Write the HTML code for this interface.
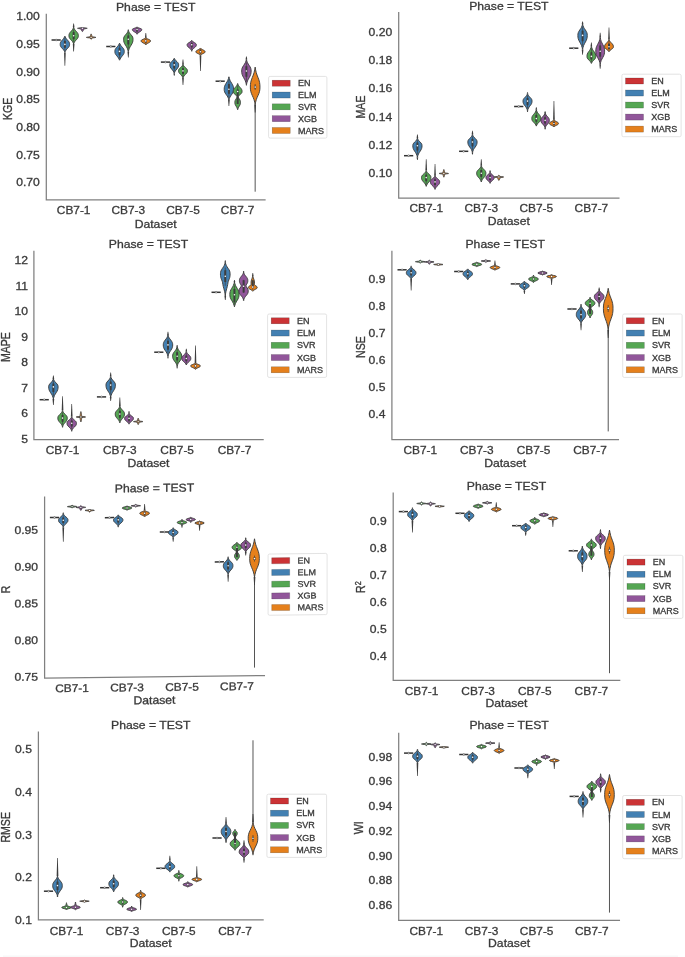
<!DOCTYPE html>
<html><head><meta charset="utf-8"><title>Violin plots</title>
<style>html,body{margin:0;padding:0;background:#fff;}body{width:685px;height:957px;overflow:hidden;font-family:"Liberation Sans",sans-serif;}svg{display:block;filter:blur(0.55px);}</style></head>
<body>
<svg width="685" height="957" viewBox="0 0 685 957" font-family="'Liberation Sans', sans-serif">
<rect width="685" height="957" fill="#fff"/>
<g>
<line x1="51.54" y1="40.00" x2="60.74" y2="40.00" stroke="#333" stroke-width="1.5"/><circle cx="56.14" cy="40.00" r="0.85" fill="#fff" stroke="#4a4a4a" stroke-width="0.55"/>
<path d="M64.04 52.40L65.74 52.40L65.21 65.80L64.57 65.80Z" fill="#3d3d3d"/><path d="M64.89 36.2L65.34 37.05L65.96 38.25L66.76 39.27L67.7 40.3L68.58 41.33L69.21 42.35L69.53 43.38L69.59 44.4L69.52 45.36L69.21 46.32L68.57 47.28L67.7 48.24L66.77 49.2L65.96 50.16L65.34 51.28L64.89 52.4L64.44 51.28L63.81 50.16L63.01 49.2L62.08 48.24L61.2 47.28L60.57 46.32L60.25 45.36L60.19 44.4L60.25 43.38L60.57 42.35L61.2 41.33L62.08 40.3L63.02 39.27L63.81 38.25L64.44 37.05L64.89 36.2Z" fill="#4380b2" stroke="#3d3d3d" stroke-width="0.95" stroke-linejoin="round"/><line x1="64.89" y1="37.91" x2="64.89" y2="50.48" stroke="#3d3d3d" stroke-width="0.7"/><line x1="64.89" y1="40.81" x2="64.89" y2="47.76" stroke="#3d3d3d" stroke-width="2.0"/><circle cx="64.89" cy="44.40" r="0.78" fill="#fff"/>
<path d="M72.79 27.20L74.49 27.20L73.96 23.40L73.32 23.40Z" fill="#3d3d3d"/><path d="M72.79 43.95L74.49 43.95L73.96 51.40L73.32 51.40Z" fill="#3d3d3d"/><path d="M73.64 27.2L74.09 28.39L74.71 29.58L75.51 30.6L76.45 31.62L77.32 32.64L77.96 33.66L78.27 34.68L78.34 35.7L78.27 36.69L77.96 37.68L77.32 38.67L76.45 39.66L75.51 40.65L74.71 41.64L74.09 42.8L73.64 43.95L73.19 42.8L72.56 41.64L71.76 40.65L70.83 39.66L69.95 38.67L69.32 37.68L69 36.69L68.94 35.7L69 34.68L69.32 33.66L69.95 32.64L70.83 31.62L71.76 30.6L72.56 29.58L73.19 28.39L73.64 27.2Z" fill="#55a653" stroke="#3d3d3d" stroke-width="0.95" stroke-linejoin="round"/><line x1="73.64" y1="29.24" x2="73.64" y2="41.97" stroke="#3d3d3d" stroke-width="0.7"/><line x1="73.64" y1="32.13" x2="73.64" y2="39.17" stroke="#3d3d3d" stroke-width="2.0"/><circle cx="73.64" cy="35.70" r="0.78" fill="#fff"/>
<path d="M82.39 27.5L83.6 27.8L86.21 28.05L87.21 28.3L86.26 28.55L84.2 28.8L83.9 29.14L83.64 29.8L83.34 30.3L83.02 30.8L82.75 31.3L82.39 31.5L82.02 31.3L81.75 30.8L81.43 30.3L81.13 29.8L80.87 29.14L80.57 28.8L78.51 28.55L77.56 28.3L78.56 28.05L81.17 27.8L82.39 27.5Z" fill="#91569a" stroke="#484848" stroke-width="0.95" stroke-linejoin="round"/><line x1="82.39" y1="27.30" x2="82.39" y2="29.30" stroke="#3d3d3d" stroke-width="1.6"/><circle cx="82.39" cy="28.30" r="0.7" fill="#fff"/>
<path d="M91.13 33.9L91.49 34.65L91.67 35.2L91.84 35.75L91.96 36.3L92 36.56L92.21 36.85L94.88 37.15L95.86 37.4L94.88 37.65L92.45 37.9L91.9 38.24L91.67 38.73L91.49 39.07L91.13 39.4L90.78 39.07L90.59 38.73L90.36 38.24L89.82 37.9L87.39 37.65L86.4 37.4L87.39 37.15L90.05 36.85L90.27 36.56L90.31 36.3L90.43 35.75L90.6 35.2L90.77 34.65L91.13 33.9Z" fill="#e5801c" stroke="#484848" stroke-width="0.95" stroke-linejoin="round"/><line x1="91.13" y1="36.40" x2="91.13" y2="38.40" stroke="#3d3d3d" stroke-width="1.6"/><circle cx="91.13" cy="37.40" r="0.7" fill="#fff"/>
<line x1="106.22" y1="46.50" x2="115.42" y2="46.50" stroke="#333" stroke-width="1.5"/><circle cx="110.82" cy="46.50" r="0.85" fill="#fff" stroke="#4a4a4a" stroke-width="0.55"/>
<path d="M119.56 43.2L120.02 44.05L120.64 45.25L121.44 46.27L122.38 47.3L123.25 48.33L123.88 49.35L124.2 50.38L124.26 51.4L124.2 52.5L123.88 53.6L123.25 54.7L122.38 55.8L121.44 56.9L120.64 58L120.02 59.28L119.56 60.2L119.11 59.28L118.49 58L117.69 56.9L116.75 55.8L115.88 54.7L115.25 53.6L114.93 52.5L114.86 51.4L114.93 50.38L115.25 49.35L115.88 48.33L116.75 47.3L117.69 46.27L118.49 45.25L119.11 44.05L119.56 43.2Z" fill="#4380b2" stroke="#3d3d3d" stroke-width="0.95" stroke-linejoin="round"/><line x1="119.56" y1="44.91" x2="119.56" y2="58.37" stroke="#3d3d3d" stroke-width="0.7"/><line x1="119.56" y1="47.81" x2="119.56" y2="55.25" stroke="#3d3d3d" stroke-width="2.0"/><circle cx="119.56" cy="51.40" r="0.78" fill="#fff"/>
<path d="M127.46 30.20L129.16 30.20L128.63 29.50L127.99 29.50Z" fill="#3d3d3d"/><path d="M127.46 51.70L129.16 51.70L128.63 57.60L127.99 57.60Z" fill="#3d3d3d"/><path d="M128.31 30.2L128.76 31.46L129.39 32.72L130.19 33.8L131.12 34.88L132 35.96L132.63 37.04L132.95 38.12L133.01 39.2L132.95 40.7L132.63 42.2L132 43.7L131.12 45.2L130.19 46.7L129.39 48.2L128.76 49.95L128.31 51.7L127.86 49.95L127.24 48.2L126.44 46.7L125.5 45.2L124.63 43.7L123.99 42.2L123.68 40.7L123.61 39.2L123.68 38.12L123.99 37.04L124.63 35.96L125.5 34.88L126.44 33.8L127.24 32.72L127.86 31.46L128.31 30.2Z" fill="#55a653" stroke="#3d3d3d" stroke-width="0.95" stroke-linejoin="round"/><line x1="128.31" y1="32.36" x2="128.31" y2="48.70" stroke="#3d3d3d" stroke-width="0.7"/><line x1="128.31" y1="35.42" x2="128.31" y2="44.45" stroke="#3d3d3d" stroke-width="2.0"/><circle cx="128.31" cy="39.20" r="0.78" fill="#fff"/>
<path d="M137.06 26.9L137.51 27.35L138.14 27.7L138.94 28L139.87 28.3L140.75 28.6L141.38 28.9L141.7 29.2L141.76 29.5L141.7 30.07L141.38 30.64L140.75 31.21L139.87 31.78L138.94 32.35L138.14 32.92L137.51 33.59L137.06 34.25L136.61 33.59L135.99 32.92L135.18 32.35L134.25 31.78L133.38 31.21L132.74 30.64L132.43 30.07L132.36 29.5L132.43 29.2L132.74 28.9L133.38 28.6L134.25 28.3L135.18 28L135.99 27.7L136.61 27.35L137.06 26.9Z" fill="#91569a" stroke="#3d3d3d" stroke-width="0.95" stroke-linejoin="round"/><line x1="137.06" y1="27.60" x2="137.06" y2="33.11" stroke="#3d3d3d" stroke-width="0.7"/><line x1="137.06" y1="28.45" x2="137.06" y2="31.50" stroke="#3d3d3d" stroke-width="2.0"/><circle cx="137.06" cy="29.50" r="0.78" fill="#fff"/>
<path d="M144.96 37.65L146.66 37.65L146.13 33.00L145.49 33.00Z" fill="#3d3d3d"/><path d="M145.81 37.65L146.26 38.1L146.88 38.56L147.68 38.95L148.62 39.34L149.49 39.73L150.13 40.12L150.44 40.51L150.51 40.9L150.44 41.38L150.13 41.86L149.49 42.34L148.62 42.82L147.68 43.3L146.88 43.78L146.26 44.34L145.81 44.9L145.36 44.34L144.73 43.78L143.93 43.3L143 42.82L142.12 42.34L141.49 41.86L141.17 41.38L141.11 40.9L141.17 40.51L141.49 40.12L142.12 39.73L143 39.34L143.93 38.95L144.73 38.56L145.36 38.1L145.81 37.65Z" fill="#e5801c" stroke="#3d3d3d" stroke-width="0.95" stroke-linejoin="round"/><line x1="145.81" y1="38.43" x2="145.81" y2="43.94" stroke="#3d3d3d" stroke-width="0.7"/><line x1="145.81" y1="39.53" x2="145.81" y2="42.58" stroke="#3d3d3d" stroke-width="2.0"/><circle cx="145.81" cy="40.90" r="0.78" fill="#fff"/>
<line x1="160.89" y1="62.10" x2="170.09" y2="62.10" stroke="#333" stroke-width="1.5"/><circle cx="165.49" cy="62.10" r="0.85" fill="#fff" stroke="#4a4a4a" stroke-width="0.55"/>
<path d="M173.39 73.40L175.09 73.40L174.56 75.80L173.92 75.80Z" fill="#3d3d3d"/><path d="M174.24 58.3L174.66 58.99L175.25 59.95L175.99 60.77L176.87 61.6L177.69 62.43L178.28 63.25L178.58 64.08L178.64 64.9L178.58 65.92L178.28 66.94L177.69 67.96L176.87 68.98L176 70L175.25 71.02L174.66 72.21L174.24 73.4L173.82 72.21L173.23 71.02L172.48 70L171.61 68.98L170.79 67.96L170.2 66.94L169.9 65.92L169.84 64.9L169.9 64.08L170.2 63.25L170.79 62.43L171.61 61.6L172.49 60.77L173.23 59.95L173.82 58.99L174.24 58.3Z" fill="#4380b2" stroke="#3d3d3d" stroke-width="0.95" stroke-linejoin="round"/><line x1="174.24" y1="59.67" x2="174.24" y2="71.36" stroke="#3d3d3d" stroke-width="0.7"/><line x1="174.24" y1="62.01" x2="174.24" y2="68.47" stroke="#3d3d3d" stroke-width="2.0"/><circle cx="174.24" cy="64.90" r="0.78" fill="#fff"/>
<path d="M182.14 64.40L183.84 64.40L183.31 59.50L182.67 59.50Z" fill="#3d3d3d"/><path d="M182.14 77.90L183.84 77.90L183.31 84.90L182.67 84.90Z" fill="#3d3d3d"/><path d="M182.99 64.4L183.41 65.31L183.99 66.22L184.74 67L185.62 67.78L186.44 68.56L187.03 69.34L187.33 70.12L187.39 70.9L187.33 71.74L187.03 72.58L186.44 73.42L185.62 74.26L184.74 75.1L183.99 75.94L183.41 76.92L182.99 77.9L182.56 76.92L181.98 75.94L181.23 75.1L180.36 74.26L179.54 73.42L178.95 72.58L178.65 71.74L178.59 70.9L178.65 70.12L178.95 69.34L179.54 68.56L180.36 67.78L181.23 67L181.98 66.22L182.56 65.31L182.99 64.4Z" fill="#55a653" stroke="#3d3d3d" stroke-width="0.95" stroke-linejoin="round"/><line x1="182.99" y1="65.96" x2="182.99" y2="76.22" stroke="#3d3d3d" stroke-width="0.7"/><line x1="182.99" y1="68.17" x2="182.99" y2="73.84" stroke="#3d3d3d" stroke-width="2.0"/><circle cx="182.99" cy="70.90" r="0.78" fill="#fff"/>
<path d="M190.89 50.80L192.59 50.80L192.06 51.60L191.42 51.60Z" fill="#3d3d3d"/><path d="M191.74 40.3L192.18 40.93L192.79 41.56L193.57 42.1L194.49 42.64L195.34 43.18L195.96 43.72L196.27 44.26L196.34 44.8L196.27 45.52L195.96 46.24L195.34 46.96L194.49 47.68L193.57 48.4L192.79 49.12L192.18 49.96L191.74 50.8L191.29 49.96L190.68 49.12L189.9 48.4L188.98 47.68L188.13 46.96L187.51 46.24L187.2 45.52L187.14 44.8L187.2 44.26L187.51 43.72L188.13 43.18L188.98 42.64L189.9 42.1L190.68 41.56L191.29 40.93L191.74 40.3Z" fill="#91569a" stroke="#3d3d3d" stroke-width="0.95" stroke-linejoin="round"/><line x1="191.74" y1="41.38" x2="191.74" y2="49.36" stroke="#3d3d3d" stroke-width="0.7"/><line x1="191.74" y1="42.91" x2="191.74" y2="47.32" stroke="#3d3d3d" stroke-width="2.0"/><circle cx="191.74" cy="44.80" r="0.78" fill="#fff"/>
<path d="M199.63 55.30L201.33 55.30L200.80 70.90L200.16 70.90Z" fill="#3d3d3d"/><path d="M200.48 48.05L200.92 48.57L201.54 49.1L202.32 49.55L203.23 50L204.09 50.45L204.71 50.9L205.02 51.35L205.08 51.8L205.02 52.22L204.71 52.64L204.09 53.06L203.23 53.48L202.32 53.9L201.54 54.32L200.93 54.81L200.48 55.3L200.04 54.81L199.43 54.32L198.65 53.9L197.73 53.48L196.88 53.06L196.26 52.64L195.95 52.22L195.88 51.8L195.95 51.35L196.26 50.9L196.88 50.45L197.73 50L198.65 49.55L199.43 49.1L200.05 48.57L200.48 48.05Z" fill="#e5801c" stroke="#3d3d3d" stroke-width="0.95" stroke-linejoin="round"/><line x1="200.48" y1="48.95" x2="200.48" y2="54.46" stroke="#3d3d3d" stroke-width="0.7"/><line x1="200.48" y1="50.22" x2="200.48" y2="53.27" stroke="#3d3d3d" stroke-width="2.0"/><circle cx="200.48" cy="51.80" r="0.78" fill="#fff"/>
<line x1="215.57" y1="81.20" x2="224.77" y2="81.20" stroke="#333" stroke-width="1.5"/><circle cx="220.17" cy="81.20" r="0.85" fill="#fff" stroke="#4a4a4a" stroke-width="0.55"/>
<path d="M228.06 100.05L229.76 100.05L229.23 106.10L228.59 106.10Z" fill="#3d3d3d"/><path d="M228.91 76.8L229.37 78.55L229.99 80.3L230.79 81.8L231.73 83.3L232.6 84.8L233.23 86.3L233.55 87.8L233.61 89.3L233.55 90.59L233.23 91.88L232.6 93.17L231.73 94.46L230.79 95.75L229.99 97.04L229.37 98.55L228.91 100.05L228.46 98.55L227.84 97.04L227.04 95.75L226.1 94.46L225.23 93.17L224.6 91.88L224.28 90.59L224.21 89.3L224.28 87.8L224.6 86.3L225.23 84.8L226.1 83.3L227.04 81.8L227.84 80.3L228.46 78.55L228.91 76.8Z" fill="#4380b2" stroke="#3d3d3d" stroke-width="0.95" stroke-linejoin="round"/><line x1="228.91" y1="79.80" x2="228.91" y2="97.47" stroke="#3d3d3d" stroke-width="0.7"/><line x1="228.91" y1="84.05" x2="228.91" y2="93.81" stroke="#3d3d3d" stroke-width="2.0"/><circle cx="228.91" cy="89.30" r="0.78" fill="#fff"/>
<path d="M237.66 83.5L238.09 84.62L238.67 85.74L239.42 86.7L240.29 87.66L241.11 88.62L241.7 89.58L242 90.54L242.06 91.5L242 92.22L241.7 92.94L241.11 93.66L240.75 94L240.29 94.38L239.42 95.1L239.08 95.4L238.67 95.82L238.28 96.38L238.18 96.66L238.31 97.36L238.78 98.2L239.11 98.7L239.34 99.04L239.86 99.88L239.99 100.14L240.23 100.72L240.42 101.56L240.46 102.4L240.42 103.3L240.23 104.2L239.86 105.1L239.34 106L238.78 106.9L238.3 107.8L237.93 108.85L237.66 109.7L237.39 108.85L237.02 107.8L236.54 106.9L235.99 106L235.47 105.1L235.09 104.2L234.9 103.3L234.86 102.4L234.9 101.56L235.09 100.72L235.33 100.14L235.47 99.88L235.99 99.04L236.22 98.7L236.54 98.2L237.01 97.36L237.15 96.66L237.05 96.38L236.65 95.82L236.24 95.4L235.91 95.1L235.03 94.38L234.58 94L234.21 93.66L233.62 92.94L233.32 92.22L233.26 91.5L233.32 90.54L233.62 89.58L234.21 88.62L235.03 87.66L235.91 86.7L236.66 85.74L237.24 84.62L237.66 83.5Z" fill="#55a653" stroke="#3d3d3d" stroke-width="0.95" stroke-linejoin="round"/><line x1="237.66" y1="85.42" x2="237.66" y2="96.06" stroke="#3d3d3d" stroke-width="0.7"/><line x1="237.66" y1="89.50" x2="237.66" y2="104.00" stroke="#3d3d3d" stroke-width="2.0"/><circle cx="237.66" cy="91.50" r="0.78" fill="#fff"/>
<path d="M245.56 59.50L247.26 59.50L246.73 56.50L246.09 56.50Z" fill="#3d3d3d"/><path d="M245.56 84.75L247.26 84.75L246.73 85.60L246.09 85.60Z" fill="#3d3d3d"/><path d="M246.41 59.5L246.86 61.11L247.49 62.72L248.29 64.1L249.22 65.48L250.1 66.86L250.73 68.24L251.05 69.62L251.11 71L251.05 72.65L250.73 74.3L250.1 75.95L249.22 77.6L248.29 79.25L247.49 80.9L246.86 82.83L246.41 84.75L245.96 82.83L245.34 80.9L244.53 79.25L243.6 77.6L242.73 75.95L242.09 74.3L241.78 72.65L241.71 71L241.78 69.62L242.09 68.24L242.73 66.86L243.6 65.48L244.53 64.1L245.34 62.72L245.96 61.11L246.41 59.5Z" fill="#91569a" stroke="#3d3d3d" stroke-width="0.95" stroke-linejoin="round"/><line x1="246.41" y1="62.26" x2="246.41" y2="81.45" stroke="#3d3d3d" stroke-width="0.7"/><line x1="246.41" y1="66.17" x2="246.41" y2="76.78" stroke="#3d3d3d" stroke-width="2.0"/><circle cx="246.41" cy="71.00" r="0.78" fill="#fff"/>
<line x1="255.16" y1="104.60" x2="255.16" y2="191.70" stroke="#4c4c4c" stroke-width="0.95"/><path d="M254.31 104.60L256.01 104.60L255.56 112.60L254.76 112.60Z" fill="#3d3d3d"/><path d="M255.16 67.1L255.62 69.9L256.26 72.7L257.07 75.1L258.03 77.5L258.92 79.9L259.57 82.3L259.89 84.7L259.96 87.1L259.89 89.2L259.57 91.3L258.92 93.4L258.03 95.5L257.07 97.6L256.26 99.7L255.62 102.15L255.16 104.6L254.7 102.15L254.06 99.7L253.24 97.6L252.29 95.5L251.4 93.4L250.75 91.3L250.43 89.2L250.36 87.1L250.43 84.7L250.75 82.3L251.4 79.9L252.29 77.5L253.24 75.1L254.06 72.7L254.7 69.9L255.16 67.1Z" fill="#e5801c" stroke="#3d3d3d" stroke-width="0.95" stroke-linejoin="round"/><line x1="255.16" y1="84.00" x2="255.16" y2="90.00" stroke="#3d3d3d" stroke-width="0.7"/><line x1="255.16" y1="85.80" x2="255.16" y2="88.40" stroke="#3d3d3d" stroke-width="2.0"/><circle cx="255.16" cy="87.10" r="0.78" fill="#fff"/>
<path d="M46.30 14.30 V199.80 H265.00" fill="none" stroke="#808080" stroke-width="1.25" stroke-linecap="square"/>
<text transform="translate(39.80 20.41) scale(1.085 1)" font-size="11.20" text-anchor="end" fill="#3a3a3a" stroke="#3a3a3a" stroke-width="0.3">1.00</text>
<text transform="translate(39.80 48.01) scale(1.085 1)" font-size="11.20" text-anchor="end" fill="#3a3a3a" stroke="#3a3a3a" stroke-width="0.3">0.95</text>
<text transform="translate(39.80 75.71) scale(1.085 1)" font-size="11.20" text-anchor="end" fill="#3a3a3a" stroke="#3a3a3a" stroke-width="0.3">0.90</text>
<text transform="translate(39.80 103.41) scale(1.085 1)" font-size="11.20" text-anchor="end" fill="#3a3a3a" stroke="#3a3a3a" stroke-width="0.3">0.85</text>
<text transform="translate(39.80 131.01) scale(1.085 1)" font-size="11.20" text-anchor="end" fill="#3a3a3a" stroke="#3a3a3a" stroke-width="0.3">0.80</text>
<text transform="translate(39.80 158.71) scale(1.085 1)" font-size="11.20" text-anchor="end" fill="#3a3a3a" stroke="#3a3a3a" stroke-width="0.3">0.75</text>
<text transform="translate(39.80 186.41) scale(1.085 1)" font-size="11.20" text-anchor="end" fill="#3a3a3a" stroke="#3a3a3a" stroke-width="0.3">0.70</text>
<text transform="translate(73.64 214.31) scale(1.060 1)" font-size="11.20" text-anchor="middle" fill="#3a3a3a" stroke="#3a3a3a" stroke-width="0.3">CB7-1</text>
<text transform="translate(128.31 214.31) scale(1.060 1)" font-size="11.20" text-anchor="middle" fill="#3a3a3a" stroke="#3a3a3a" stroke-width="0.3">CB7-3</text>
<text transform="translate(182.99 214.31) scale(1.060 1)" font-size="11.20" text-anchor="middle" fill="#3a3a3a" stroke="#3a3a3a" stroke-width="0.3">CB7-5</text>
<text transform="translate(237.66 214.31) scale(1.060 1)" font-size="11.20" text-anchor="middle" fill="#3a3a3a" stroke="#3a3a3a" stroke-width="0.3">CB7-7</text>
<text transform="translate(155.65 227.52) scale(1.060 1)" font-size="11.50" text-anchor="middle" fill="#3a3a3a" stroke="#3a3a3a" stroke-width="0.3">Dataset</text>
<text transform="translate(155.65 11.02) scale(1.060 1)" font-size="11.50" text-anchor="middle" fill="#3a3a3a" stroke="#3a3a3a" stroke-width="0.3">Phase = TEST</text>
<text transform="translate(11.52 108.90) rotate(-90) scale(0.920 1.1)" font-size="11.50" text-anchor="middle" fill="#3a3a3a" stroke="#3a3a3a" stroke-width="0.3">KGE</text>
<rect x="268.60" y="76.40" width="58.30" height="61.70" rx="1.5" fill="#fff" stroke="#dcdcdc" stroke-width="0.8"/>
<rect x="272.20" y="80.20" width="18" height="6" fill="#cb3335" stroke="#000" stroke-opacity="0.35" stroke-width="0.5"/>
<text transform="translate(298.00 86.24) scale(1.060 1)" font-size="8.50" text-anchor="start" fill="#3a3a3a" stroke="#3a3a3a" stroke-width="0.3">EN</text>
<rect x="272.20" y="92.03" width="18" height="6" fill="#4380b2" stroke="#000" stroke-opacity="0.35" stroke-width="0.5"/>
<text transform="translate(298.00 98.07) scale(1.060 1)" font-size="8.50" text-anchor="start" fill="#3a3a3a" stroke="#3a3a3a" stroke-width="0.3">ELM</text>
<rect x="272.20" y="103.85" width="18" height="6" fill="#55a653" stroke="#000" stroke-opacity="0.35" stroke-width="0.5"/>
<text transform="translate(298.00 109.89) scale(1.060 1)" font-size="8.50" text-anchor="start" fill="#3a3a3a" stroke="#3a3a3a" stroke-width="0.3">SVR</text>
<rect x="272.20" y="115.68" width="18" height="6" fill="#91569a" stroke="#000" stroke-opacity="0.35" stroke-width="0.5"/>
<text transform="translate(298.00 121.72) scale(1.060 1)" font-size="8.50" text-anchor="start" fill="#3a3a3a" stroke="#3a3a3a" stroke-width="0.3">XGB</text>
<rect x="272.20" y="127.50" width="18" height="6" fill="#e5801c" stroke="#000" stroke-opacity="0.35" stroke-width="0.5"/>
<text transform="translate(298.00 133.54) scale(1.060 1)" font-size="8.50" text-anchor="start" fill="#3a3a3a" stroke="#3a3a3a" stroke-width="0.3">MARS</text>
</g>
<g>
<line x1="404.01" y1="155.70" x2="413.21" y2="155.70" stroke="#333" stroke-width="1.5"/><circle cx="408.61" cy="155.70" r="0.85" fill="#fff" stroke="#4a4a4a" stroke-width="0.55"/>
<path d="M416.57 138.20L418.27 138.20L417.74 134.60L417.10 134.60Z" fill="#3d3d3d"/><path d="M416.57 157.20L418.27 157.20L417.74 160.00L417.10 160.00Z" fill="#3d3d3d"/><path d="M417.42 138.2L417.86 139.25L418.47 140.3L419.25 141.2L420.17 142.1L421.02 143L421.64 143.9L421.95 144.8L422.02 145.7L421.95 147.08L421.64 148.46L421.02 149.84L420.17 151.22L419.25 152.6L418.47 153.98L417.86 155.59L417.42 157.2L416.97 155.59L416.36 153.98L415.58 152.6L414.67 151.22L413.81 149.84L413.19 148.46L412.88 147.08L412.82 145.7L412.88 144.8L413.19 143.9L413.81 143L414.67 142.1L415.58 141.2L416.36 140.3L416.97 139.25L417.42 138.2Z" fill="#4380b2" stroke="#3d3d3d" stroke-width="0.95" stroke-linejoin="round"/><line x1="417.42" y1="140.00" x2="417.42" y2="154.44" stroke="#3d3d3d" stroke-width="0.7"/><line x1="417.42" y1="142.55" x2="417.42" y2="150.53" stroke="#3d3d3d" stroke-width="2.0"/><circle cx="417.42" cy="145.70" r="0.78" fill="#fff"/>
<path d="M425.37 170.60L427.07 170.60L426.54 159.20L425.90 159.20Z" fill="#3d3d3d"/><path d="M426.22 170.6L426.68 171.58L427.3 172.56L428.1 173.4L429.04 174.24L429.91 175.08L430.54 175.92L430.86 176.76L430.92 177.6L430.86 178.65L430.54 179.7L429.91 180.75L429.04 181.8L428.1 182.85L427.3 183.9L426.68 185.12L426.22 186.35L425.77 185.12L425.15 183.9L424.35 182.85L423.41 181.8L422.54 180.75L421.91 179.7L421.59 178.65L421.52 177.6L421.59 176.76L421.91 175.92L422.54 175.08L423.41 174.24L424.35 173.4L425.15 172.56L425.77 171.58L426.22 170.6Z" fill="#55a653" stroke="#3d3d3d" stroke-width="0.95" stroke-linejoin="round"/><line x1="426.22" y1="172.28" x2="426.22" y2="184.25" stroke="#3d3d3d" stroke-width="0.7"/><line x1="426.22" y1="174.66" x2="426.22" y2="181.28" stroke="#3d3d3d" stroke-width="2.0"/><circle cx="426.22" cy="177.60" r="0.78" fill="#fff"/>
<path d="M434.18 175.65L435.88 175.65L435.35 163.90L434.71 163.90Z" fill="#3d3d3d"/><path d="M435.03 175.65L435.48 176.53L436.09 177.4L436.87 178.15L437.78 178.9L438.64 179.65L439.26 180.4L439.57 181.15L439.63 181.9L439.57 182.8L439.26 183.7L438.64 184.6L437.78 185.5L436.87 186.4L436.09 187.3L435.48 188.35L435.03 189.4L434.59 188.35L433.98 187.3L433.2 186.4L432.28 185.5L431.43 184.6L430.81 183.7L430.5 182.8L430.43 181.9L430.5 181.15L430.81 180.4L431.43 179.65L432.28 178.9L433.2 178.15L433.98 177.4L434.59 176.53L435.03 175.65Z" fill="#91569a" stroke="#3d3d3d" stroke-width="0.95" stroke-linejoin="round"/><line x1="435.03" y1="177.15" x2="435.03" y2="187.60" stroke="#3d3d3d" stroke-width="0.7"/><line x1="435.03" y1="179.28" x2="435.03" y2="185.05" stroke="#3d3d3d" stroke-width="2.0"/><circle cx="435.03" cy="181.90" r="0.78" fill="#fff"/>
<path d="M443.84 169.5L444.16 170.33L444.32 170.97L444.47 171.6L444.58 172.23L444.6 172.49L444.63 172.8L445.8 173.08L448.17 173.33L448.51 173.58L446.66 173.84L444.71 174.1L444.6 174.51L444.47 175.35L444.32 175.97L444.16 176.58L443.84 177.2L443.52 176.58L443.36 175.97L443.21 175.35L443.08 174.51L442.97 174.1L441.03 173.84L439.18 173.58L439.51 173.33L441.88 173.08L443.05 172.8L443.08 172.49L443.11 172.23L443.21 171.6L443.36 170.97L443.52 170.33L443.84 169.5Z" fill="#e5801c" stroke="#484848" stroke-width="0.95" stroke-linejoin="round"/><line x1="443.84" y1="172.50" x2="443.84" y2="174.50" stroke="#3d3d3d" stroke-width="1.6"/><circle cx="443.84" cy="173.50" r="0.7" fill="#fff"/>
<line x1="459.06" y1="151.30" x2="468.26" y2="151.30" stroke="#333" stroke-width="1.5"/><circle cx="463.66" cy="151.30" r="0.85" fill="#fff" stroke="#4a4a4a" stroke-width="0.55"/>
<path d="M471.62 134.50L473.32 134.50L472.79 130.80L472.15 130.80Z" fill="#3d3d3d"/><path d="M471.62 152.50L473.32 152.50L472.79 154.40L472.15 154.40Z" fill="#3d3d3d"/><path d="M472.47 134.5L472.91 135.55L473.52 136.6L474.3 137.5L475.22 138.4L476.07 139.3L476.69 140.2L477 141.1L477.07 142L477 143.26L476.69 144.52L476.07 145.78L475.22 147.04L474.3 148.3L473.52 149.56L472.91 151.03L472.47 152.5L472.02 151.03L471.41 149.56L470.63 148.3L469.72 147.04L468.86 145.78L468.24 144.52L467.93 143.26L467.87 142L467.93 141.1L468.24 140.2L468.86 139.3L469.72 138.4L470.63 137.5L471.41 136.6L472.02 135.55L472.47 134.5Z" fill="#4380b2" stroke="#3d3d3d" stroke-width="0.95" stroke-linejoin="round"/><line x1="472.47" y1="136.30" x2="472.47" y2="149.98" stroke="#3d3d3d" stroke-width="0.7"/><line x1="472.47" y1="138.85" x2="472.47" y2="146.41" stroke="#3d3d3d" stroke-width="2.0"/><circle cx="472.47" cy="142.00" r="0.78" fill="#fff"/>
<path d="M480.42 165.70L482.12 165.70L481.59 159.20L480.95 159.20Z" fill="#3d3d3d"/><path d="M481.27 165.7L481.72 166.75L482.33 167.8L483.11 168.7L484.03 169.6L484.88 170.5L485.5 171.4L485.81 172.3L485.88 173.2L485.81 174.25L485.5 175.3L484.88 176.35L484.03 177.4L483.11 178.45L482.33 179.5L481.72 180.72L481.27 181.95L480.83 180.72L480.22 179.5L479.44 178.45L478.52 177.4L477.67 176.35L477.05 175.3L476.74 174.25L476.67 173.2L476.74 172.3L477.05 171.4L477.67 170.5L478.52 169.6L479.44 168.7L480.22 167.8L480.83 166.75L481.27 165.7Z" fill="#55a653" stroke="#3d3d3d" stroke-width="0.95" stroke-linejoin="round"/><line x1="481.27" y1="167.50" x2="481.27" y2="179.85" stroke="#3d3d3d" stroke-width="0.7"/><line x1="481.27" y1="170.05" x2="481.27" y2="176.88" stroke="#3d3d3d" stroke-width="2.0"/><circle cx="481.27" cy="173.20" r="0.78" fill="#fff"/>
<path d="M489.23 172.10L490.93 172.10L490.40 170.20L489.76 170.20Z" fill="#3d3d3d"/><path d="M490.08 172.1L490.48 172.87L491.02 173.64L491.72 174.3L492.54 174.96L493.3 175.62L493.85 176.28L494.13 176.94L494.18 177.6L494.13 178.29L493.85 178.98L493.3 179.67L492.54 180.36L491.72 181.05L491.02 181.74L490.48 182.54L490.08 183.35L489.69 182.54L489.15 181.74L488.45 181.05L487.63 180.36L486.87 179.67L486.32 178.98L486.04 178.29L485.98 177.6L486.04 176.94L486.32 176.28L486.87 175.62L487.63 174.96L488.45 174.3L489.15 173.64L489.69 172.87L490.08 172.1Z" fill="#91569a" stroke="#3d3d3d" stroke-width="0.95" stroke-linejoin="round"/><line x1="490.08" y1="173.42" x2="490.08" y2="181.97" stroke="#3d3d3d" stroke-width="0.7"/><line x1="490.08" y1="175.29" x2="490.08" y2="180.01" stroke="#3d3d3d" stroke-width="2.0"/><circle cx="490.08" cy="177.60" r="0.78" fill="#fff"/>
<path d="M498.89 175.1L499.41 175.58L499.67 175.87L499.91 176.15L500.11 176.4L501.81 176.66L503.61 176.92L503.28 177.17L501.03 177.42L500.16 177.7L500.1 178.01L499.91 178.6L499.67 179.13L499.41 179.67L499.19 180.2L498.89 180.4L498.59 180.2L498.37 179.67L498.11 179.13L497.87 178.6L497.68 178.01L497.63 177.7L496.75 177.42L494.5 177.17L494.17 176.92L495.97 176.66L497.67 176.4L497.87 176.15L498.11 175.87L498.37 175.58L498.89 175.1Z" fill="#e5801c" stroke="#484848" stroke-width="0.95" stroke-linejoin="round"/><line x1="498.89" y1="176.00" x2="498.89" y2="178.00" stroke="#3d3d3d" stroke-width="1.6"/><circle cx="498.89" cy="177.00" r="0.7" fill="#fff"/>
<line x1="514.11" y1="106.50" x2="523.31" y2="106.50" stroke="#333" stroke-width="1.5"/><circle cx="518.71" cy="106.50" r="0.85" fill="#fff" stroke="#4a4a4a" stroke-width="0.55"/>
<path d="M526.67 93.60L528.37 93.60L527.84 92.30L527.20 92.30Z" fill="#3d3d3d"/><path d="M526.67 110.60L528.37 110.60L527.84 112.00L527.20 112.00Z" fill="#3d3d3d"/><path d="M527.52 93.6L527.95 94.65L528.55 95.7L529.31 96.6L530.21 97.5L531.05 98.4L531.65 99.3L531.95 100.2L532.02 101.1L531.95 102.24L531.65 103.38L531.05 104.52L530.21 105.66L529.31 106.8L528.55 107.94L527.95 109.27L527.52 110.6L527.08 109.27L526.49 107.94L525.72 106.8L524.83 105.66L523.99 104.52L523.38 103.38L523.08 102.24L523.02 101.1L523.08 100.2L523.38 99.3L523.99 98.4L524.83 97.5L525.72 96.6L526.49 95.7L527.08 94.65L527.52 93.6Z" fill="#4380b2" stroke="#3d3d3d" stroke-width="0.95" stroke-linejoin="round"/><line x1="527.52" y1="95.40" x2="527.52" y2="108.32" stroke="#3d3d3d" stroke-width="0.7"/><line x1="527.52" y1="97.95" x2="527.52" y2="105.09" stroke="#3d3d3d" stroke-width="2.0"/><circle cx="527.52" cy="101.10" r="0.78" fill="#fff"/>
<path d="M535.48 109.85L537.18 109.85L536.65 107.20L536.00 107.20Z" fill="#3d3d3d"/><path d="M536.33 109.85L536.76 111.07L537.35 112.3L538.12 113.35L539.02 114.4L539.85 115.45L540.46 116.5L540.76 117.55L540.83 118.6L540.76 119.5L540.46 120.4L539.85 121.3L539.02 122.2L538.12 123.1L537.35 124L536.76 125.05L536.33 126.1L535.89 125.05L535.3 124L534.53 123.1L533.63 122.2L532.8 121.3L532.19 120.4L531.89 119.5L531.83 118.6L531.89 117.55L532.19 116.5L532.8 115.45L533.63 114.4L534.53 113.35L535.3 112.3L535.89 111.07L536.33 109.85Z" fill="#55a653" stroke="#3d3d3d" stroke-width="0.95" stroke-linejoin="round"/><line x1="536.33" y1="111.95" x2="536.33" y2="124.30" stroke="#3d3d3d" stroke-width="0.7"/><line x1="536.33" y1="114.92" x2="536.33" y2="121.75" stroke="#3d3d3d" stroke-width="2.0"/><circle cx="536.33" cy="118.60" r="0.78" fill="#fff"/>
<path d="M544.28 112.90L545.98 112.90L545.45 111.30L544.81 111.30Z" fill="#3d3d3d"/><path d="M544.28 127.90L545.98 127.90L545.45 129.50L544.81 129.50Z" fill="#3d3d3d"/><path d="M545.13 112.9L545.54 113.95L546.09 115L546.81 115.9L547.64 116.8L548.43 117.7L548.99 118.6L549.27 119.5L549.33 120.4L549.27 121.3L548.99 122.2L548.43 123.1L547.64 124L546.81 124.9L546.09 125.8L545.54 126.85L545.13 127.9L544.73 126.85L544.17 125.8L543.46 124.9L542.62 124L541.84 123.1L541.27 122.2L540.99 121.3L540.93 120.4L540.99 119.5L541.27 118.6L541.84 117.7L542.62 116.8L543.46 115.9L544.17 115L544.73 113.95L545.13 112.9Z" fill="#91569a" stroke="#3d3d3d" stroke-width="0.95" stroke-linejoin="round"/><line x1="545.13" y1="114.70" x2="545.13" y2="126.10" stroke="#3d3d3d" stroke-width="0.7"/><line x1="545.13" y1="117.25" x2="545.13" y2="123.55" stroke="#3d3d3d" stroke-width="2.0"/><circle cx="545.13" cy="120.40" r="0.78" fill="#fff"/>
<path d="M553.09 119.75L554.79 119.75L554.26 101.10L553.62 101.10Z" fill="#3d3d3d"/><path d="M553.94 119.75L554.38 120.28L554.97 120.8L555.74 121.25L556.63 121.7L557.47 122.15L558.08 122.6L558.38 123.05L558.44 123.5L558.38 123.92L558.08 124.34L557.47 124.76L556.63 125.18L555.74 125.6L554.97 126.02L554.37 126.51L553.94 127L553.51 126.51L552.91 126.02L552.14 125.6L551.25 125.18L550.41 124.76L549.81 124.34L549.5 123.92L549.44 123.5L549.5 123.05L549.81 122.6L550.41 122.15L551.25 121.7L552.14 121.25L552.91 120.8L553.5 120.28L553.94 119.75Z" fill="#e5801c" stroke="#3d3d3d" stroke-width="0.95" stroke-linejoin="round"/><line x1="553.94" y1="120.65" x2="553.94" y2="126.16" stroke="#3d3d3d" stroke-width="0.7"/><line x1="553.94" y1="121.92" x2="553.94" y2="124.97" stroke="#3d3d3d" stroke-width="2.0"/><circle cx="553.94" cy="123.50" r="0.78" fill="#fff"/>
<line x1="569.16" y1="48.20" x2="578.36" y2="48.20" stroke="#333" stroke-width="1.5"/><circle cx="573.76" cy="48.20" r="0.85" fill="#fff" stroke="#4a4a4a" stroke-width="0.55"/>
<path d="M581.72 24.15L583.42 24.15L582.89 21.40L582.25 21.40Z" fill="#3d3d3d"/><path d="M581.72 49.40L583.42 49.40L582.89 54.70L582.25 54.70Z" fill="#3d3d3d"/><path d="M582.57 24.15L583.02 25.73L583.64 27.3L584.44 28.65L585.38 30L586.25 31.35L586.88 32.7L587.2 34.05L587.27 35.4L587.2 37.08L586.88 38.76L586.25 40.44L585.38 42.12L584.44 43.8L583.64 45.48L583.02 47.44L582.57 49.4L582.11 47.44L581.49 45.48L580.69 43.8L579.76 42.12L578.88 40.44L578.25 38.76L577.93 37.08L577.87 35.4L577.93 34.05L578.25 32.7L578.88 31.35L579.76 30L580.69 28.65L581.49 27.3L582.11 25.73L582.57 24.15Z" fill="#4380b2" stroke="#3d3d3d" stroke-width="0.95" stroke-linejoin="round"/><line x1="582.57" y1="26.85" x2="582.57" y2="46.04" stroke="#3d3d3d" stroke-width="0.7"/><line x1="582.57" y1="30.67" x2="582.57" y2="41.28" stroke="#3d3d3d" stroke-width="2.0"/><circle cx="582.57" cy="35.40" r="0.78" fill="#fff"/>
<path d="M590.52 46.40L592.23 46.40L591.70 42.40L591.05 42.40Z" fill="#3d3d3d"/><path d="M591.38 46.4L591.8 47.8L592.38 49.2L593.13 50.4L594.01 51.6L594.82 52.8L595.42 54L595.71 55.2L595.77 56.4L595.71 57.27L595.42 58.14L594.82 59.01L594.01 59.88L593.13 60.75L592.38 61.62L591.8 62.63L591.38 63.4L590.95 62.63L590.37 61.62L589.62 60.75L588.74 59.88L587.93 59.01L587.33 58.14L587.04 57.27L586.98 56.4L587.04 55.2L587.33 54L587.93 52.8L588.74 51.6L589.62 50.4L590.37 49.2L590.95 47.8L591.38 46.4Z" fill="#55a653" stroke="#3d3d3d" stroke-width="0.95" stroke-linejoin="round"/><line x1="591.38" y1="48.80" x2="591.38" y2="61.91" stroke="#3d3d3d" stroke-width="0.7"/><line x1="591.38" y1="52.20" x2="591.38" y2="59.45" stroke="#3d3d3d" stroke-width="2.0"/><circle cx="591.38" cy="56.40" r="0.78" fill="#fff"/>
<path d="M599.33 37.45L601.03 37.45L600.50 32.80L599.86 32.80Z" fill="#3d3d3d"/><path d="M599.33 64.20L601.03 64.20L600.50 68.70L599.86 68.70Z" fill="#3d3d3d"/><path d="M600.18 37.45L600.61 39.38L601.19 41.3L601.94 42.95L602.81 44.6L603.63 46.25L604.23 47.9L604.52 49.55L604.58 51.2L604.52 52.76L604.23 54.32L603.63 55.88L602.81 57.44L601.94 59L601.19 60.56L600.61 62.38L600.18 64.2L599.76 62.38L599.18 60.56L598.43 59L597.55 57.44L596.73 55.88L596.14 54.32L595.84 52.76L595.78 51.2L595.84 49.55L596.14 47.9L596.73 46.25L597.55 44.6L598.43 42.95L599.18 41.3L599.76 39.38L600.18 37.45Z" fill="#91569a" stroke="#3d3d3d" stroke-width="0.95" stroke-linejoin="round"/><line x1="600.18" y1="40.75" x2="600.18" y2="61.08" stroke="#3d3d3d" stroke-width="0.7"/><line x1="600.18" y1="45.43" x2="600.18" y2="56.66" stroke="#3d3d3d" stroke-width="2.0"/><circle cx="600.18" cy="51.20" r="0.78" fill="#fff"/>
<path d="M608.14 39.30L609.84 39.30L609.31 27.50L608.67 27.50Z" fill="#3d3d3d"/><path d="M608.99 39.3L609.41 40.35L610 41.4L610.75 42.3L611.62 43.2L612.44 44.1L613.03 45L613.33 45.9L613.39 46.8L613.33 47.4L613.03 48L612.44 48.6L611.62 49.2L610.75 49.8L610 50.4L609.41 51.1L608.99 51.8L608.57 51.1L607.98 50.4L607.23 49.8L606.36 49.2L605.54 48.6L604.95 48L604.65 47.4L604.59 46.8L604.65 45.9L604.95 45L605.54 44.1L606.36 43.2L607.23 42.3L607.98 41.4L608.57 40.35L608.99 39.3Z" fill="#e5801c" stroke="#3d3d3d" stroke-width="0.95" stroke-linejoin="round"/><line x1="608.99" y1="41.10" x2="608.99" y2="50.60" stroke="#3d3d3d" stroke-width="0.7"/><line x1="608.99" y1="43.65" x2="608.99" y2="48.90" stroke="#3d3d3d" stroke-width="2.0"/><circle cx="608.99" cy="46.80" r="0.78" fill="#fff"/>
<path d="M398.70 12.50 V198.00 H618.90" fill="none" stroke="#808080" stroke-width="1.25" stroke-linecap="square"/>
<text transform="translate(392.20 36.11) scale(1.085 1)" font-size="11.20" text-anchor="end" fill="#3a3a3a" stroke="#3a3a3a" stroke-width="0.3">0.20</text>
<text transform="translate(392.20 64.21) scale(1.085 1)" font-size="11.20" text-anchor="end" fill="#3a3a3a" stroke="#3a3a3a" stroke-width="0.3">0.18</text>
<text transform="translate(392.20 92.31) scale(1.085 1)" font-size="11.20" text-anchor="end" fill="#3a3a3a" stroke="#3a3a3a" stroke-width="0.3">0.16</text>
<text transform="translate(392.20 120.51) scale(1.085 1)" font-size="11.20" text-anchor="end" fill="#3a3a3a" stroke="#3a3a3a" stroke-width="0.3">0.14</text>
<text transform="translate(392.20 148.61) scale(1.085 1)" font-size="11.20" text-anchor="end" fill="#3a3a3a" stroke="#3a3a3a" stroke-width="0.3">0.12</text>
<text transform="translate(392.20 176.61) scale(1.085 1)" font-size="11.20" text-anchor="end" fill="#3a3a3a" stroke="#3a3a3a" stroke-width="0.3">0.10</text>
<text transform="translate(426.22 212.01) scale(1.060 1)" font-size="11.20" text-anchor="middle" fill="#3a3a3a" stroke="#3a3a3a" stroke-width="0.3">CB7-1</text>
<text transform="translate(481.27 212.01) scale(1.060 1)" font-size="11.20" text-anchor="middle" fill="#3a3a3a" stroke="#3a3a3a" stroke-width="0.3">CB7-3</text>
<text transform="translate(536.33 212.01) scale(1.060 1)" font-size="11.20" text-anchor="middle" fill="#3a3a3a" stroke="#3a3a3a" stroke-width="0.3">CB7-5</text>
<text transform="translate(591.38 212.01) scale(1.060 1)" font-size="11.20" text-anchor="middle" fill="#3a3a3a" stroke="#3a3a3a" stroke-width="0.3">CB7-7</text>
<text transform="translate(508.80 224.92) scale(1.060 1)" font-size="11.50" text-anchor="middle" fill="#3a3a3a" stroke="#3a3a3a" stroke-width="0.3">Dataset</text>
<text transform="translate(508.80 9.52) scale(1.060 1)" font-size="11.50" text-anchor="middle" fill="#3a3a3a" stroke="#3a3a3a" stroke-width="0.3">Phase = TEST</text>
<text transform="translate(364.72 107.00) rotate(-90) scale(0.920 1.1)" font-size="11.50" text-anchor="middle" fill="#3a3a3a" stroke="#3a3a3a" stroke-width="0.3">MAE</text>
<rect x="621.90" y="74.20" width="59.20" height="62.50" rx="1.5" fill="#fff" stroke="#dcdcdc" stroke-width="0.8"/>
<rect x="625.50" y="78.00" width="18" height="6" fill="#cb3335" stroke="#000" stroke-opacity="0.35" stroke-width="0.5"/>
<text transform="translate(651.30 84.04) scale(1.060 1)" font-size="8.50" text-anchor="start" fill="#3a3a3a" stroke="#3a3a3a" stroke-width="0.3">EN</text>
<rect x="625.50" y="90.03" width="18" height="6" fill="#4380b2" stroke="#000" stroke-opacity="0.35" stroke-width="0.5"/>
<text transform="translate(651.30 96.07) scale(1.060 1)" font-size="8.50" text-anchor="start" fill="#3a3a3a" stroke="#3a3a3a" stroke-width="0.3">ELM</text>
<rect x="625.50" y="102.05" width="18" height="6" fill="#55a653" stroke="#000" stroke-opacity="0.35" stroke-width="0.5"/>
<text transform="translate(651.30 108.09) scale(1.060 1)" font-size="8.50" text-anchor="start" fill="#3a3a3a" stroke="#3a3a3a" stroke-width="0.3">SVR</text>
<rect x="625.50" y="114.08" width="18" height="6" fill="#91569a" stroke="#000" stroke-opacity="0.35" stroke-width="0.5"/>
<text transform="translate(651.30 120.12) scale(1.060 1)" font-size="8.50" text-anchor="start" fill="#3a3a3a" stroke="#3a3a3a" stroke-width="0.3">XGB</text>
<rect x="625.50" y="126.10" width="18" height="6" fill="#e5801c" stroke="#000" stroke-opacity="0.35" stroke-width="0.5"/>
<text transform="translate(651.30 132.14) scale(1.060 1)" font-size="8.50" text-anchor="start" fill="#3a3a3a" stroke="#3a3a3a" stroke-width="0.3">MARS</text>
</g>
<g>
<line x1="39.61" y1="399.70" x2="48.81" y2="399.70" stroke="#333" stroke-width="1.5"/><circle cx="44.21" cy="399.70" r="0.85" fill="#fff" stroke="#4a4a4a" stroke-width="0.55"/>
<path d="M52.53 378.90L54.23 378.90L53.70 375.50L53.06 375.50Z" fill="#3d3d3d"/><path d="M52.53 398.90L54.23 398.90L53.70 404.90L53.06 404.90Z" fill="#3d3d3d"/><path d="M53.38 378.9L53.83 380.02L54.46 381.14L55.26 382.1L56.19 383.06L57.07 384.02L57.7 384.98L58.02 385.94L58.08 386.9L58.02 388.34L57.7 389.78L57.07 391.22L56.19 392.66L55.26 394.1L54.46 395.54L53.83 397.22L53.38 398.9L52.93 397.22L52.31 395.54L51.51 394.1L50.57 392.66L49.7 391.22L49.06 389.78L48.75 388.34L48.68 386.9L48.75 385.94L49.06 384.98L49.7 384.02L50.57 383.06L51.51 382.1L52.31 381.14L52.93 380.02L53.38 378.9Z" fill="#4380b2" stroke="#3d3d3d" stroke-width="0.95" stroke-linejoin="round"/><line x1="53.38" y1="380.82" x2="53.38" y2="396.02" stroke="#3d3d3d" stroke-width="0.7"/><line x1="53.38" y1="383.54" x2="53.38" y2="391.94" stroke="#3d3d3d" stroke-width="2.0"/><circle cx="53.38" cy="386.90" r="0.78" fill="#fff"/>
<path d="M61.70 410.60L63.40 410.60L62.87 396.20L62.23 396.20Z" fill="#3d3d3d"/><path d="M61.70 426.85L63.40 426.85L62.87 427.50L62.23 427.50Z" fill="#3d3d3d"/><path d="M62.55 410.6L63 411.65L63.63 412.7L64.43 413.6L65.36 414.5L66.23 415.4L66.87 416.3L67.18 417.2L67.25 418.1L67.18 419.15L66.87 420.2L66.23 421.25L65.36 422.3L64.43 423.35L63.63 424.4L63 425.62L62.55 426.85L62.1 425.62L61.47 424.4L60.67 423.35L59.74 422.3L58.87 421.25L58.23 420.2L57.92 419.15L57.85 418.1L57.92 417.2L58.23 416.3L58.87 415.4L59.74 414.5L60.67 413.6L61.47 412.7L62.1 411.65L62.55 410.6Z" fill="#55a653" stroke="#3d3d3d" stroke-width="0.95" stroke-linejoin="round"/><line x1="62.55" y1="412.40" x2="62.55" y2="424.75" stroke="#3d3d3d" stroke-width="0.7"/><line x1="62.55" y1="414.95" x2="62.55" y2="421.78" stroke="#3d3d3d" stroke-width="2.0"/><circle cx="62.55" cy="418.10" r="0.78" fill="#fff"/>
<path d="M70.87 416.80L72.57 416.80L72.04 403.90L71.40 403.90Z" fill="#3d3d3d"/><path d="M70.87 430.80L72.57 430.80L72.04 431.60L71.40 431.60Z" fill="#3d3d3d"/><path d="M71.72 416.8L72.17 417.71L72.79 418.62L73.59 419.4L74.53 420.18L75.4 420.96L76.04 421.74L76.35 422.52L76.42 423.3L76.35 424.2L76.04 425.1L75.4 426L74.53 426.9L73.59 427.8L72.79 428.7L72.17 429.75L71.72 430.8L71.27 429.75L70.64 428.7L69.84 427.8L68.91 426.9L68.03 426L67.4 425.1L67.08 424.2L67.02 423.3L67.08 422.52L67.4 421.74L68.03 420.96L68.91 420.18L69.84 419.4L70.64 418.62L71.27 417.71L71.72 416.8Z" fill="#91569a" stroke="#3d3d3d" stroke-width="0.95" stroke-linejoin="round"/><line x1="71.72" y1="418.36" x2="71.72" y2="429.00" stroke="#3d3d3d" stroke-width="0.7"/><line x1="71.72" y1="420.57" x2="71.72" y2="426.45" stroke="#3d3d3d" stroke-width="2.0"/><circle cx="71.72" cy="423.30" r="0.78" fill="#fff"/>
<path d="M80.89 411.6L81.21 412.67L81.36 413.53L81.51 414.4L81.62 415.27L81.67 415.99L81.68 416.3L82.85 416.58L85.22 416.83L85.55 417.08L83.7 417.34L81.76 417.6L81.67 418.01L81.62 418.63L81.51 419.45L81.36 420.27L81.21 421.08L80.89 421.9L80.57 421.08L80.41 420.27L80.26 419.45L80.15 418.63L80.11 418.01L80.01 417.6L78.07 417.34L76.22 417.08L76.55 416.83L78.92 416.58L80.09 416.3L80.1 415.99L80.15 415.27L80.26 414.4L80.41 413.53L80.57 412.67L80.89 411.6Z" fill="#e5801c" stroke="#484848" stroke-width="0.95" stroke-linejoin="round"/><line x1="80.89" y1="416.00" x2="80.89" y2="418.00" stroke="#3d3d3d" stroke-width="1.6"/><circle cx="80.89" cy="417.00" r="0.7" fill="#fff"/>
<line x1="96.91" y1="396.90" x2="106.11" y2="396.90" stroke="#333" stroke-width="1.5"/><circle cx="101.51" cy="396.90" r="0.85" fill="#fff" stroke="#4a4a4a" stroke-width="0.55"/>
<path d="M109.83 376.60L111.53 376.60L111.00 372.50L110.36 372.50Z" fill="#3d3d3d"/><path d="M109.83 397.10L111.53 397.10L111.00 400.90L110.36 400.90Z" fill="#3d3d3d"/><path d="M110.68 376.6L111.13 377.79L111.76 378.98L112.56 380L113.49 381.02L114.37 382.04L115 383.06L115.32 384.08L115.38 385.1L115.32 386.54L115 387.98L114.37 389.42L113.49 390.86L112.56 392.3L111.76 393.74L111.13 395.42L110.68 397.1L110.23 395.42L109.61 393.74L108.81 392.3L107.87 390.86L107 389.42L106.36 387.98L106.05 386.54L105.98 385.1L106.05 384.08L106.36 383.06L107 382.04L107.87 381.02L108.81 380L109.61 378.98L110.23 377.79L110.68 376.6Z" fill="#4380b2" stroke="#3d3d3d" stroke-width="0.95" stroke-linejoin="round"/><line x1="110.68" y1="378.64" x2="110.68" y2="394.22" stroke="#3d3d3d" stroke-width="0.7"/><line x1="110.68" y1="381.53" x2="110.68" y2="390.14" stroke="#3d3d3d" stroke-width="2.0"/><circle cx="110.68" cy="385.10" r="0.78" fill="#fff"/>
<path d="M119.00 406.10L120.70 406.10L120.17 397.40L119.53 397.40Z" fill="#3d3d3d"/><path d="M119.85 406.1L120.29 407.22L120.9 408.34L121.69 409.3L122.6 410.26L123.46 411.22L124.08 412.18L124.39 413.14L124.45 414.1L124.39 415.15L124.08 416.2L123.46 417.25L122.6 418.3L121.69 419.35L120.9 420.4L120.29 421.62L119.85 422.85L119.41 421.62L118.8 420.4L118.01 419.35L117.1 418.3L116.24 417.25L115.62 416.2L115.31 415.15L115.25 414.1L115.31 413.14L115.62 412.18L116.24 411.22L117.1 410.26L118.01 409.3L118.8 408.34L119.41 407.22L119.85 406.1Z" fill="#55a653" stroke="#3d3d3d" stroke-width="0.95" stroke-linejoin="round"/><line x1="119.85" y1="408.02" x2="119.85" y2="420.75" stroke="#3d3d3d" stroke-width="0.7"/><line x1="119.85" y1="410.74" x2="119.85" y2="417.78" stroke="#3d3d3d" stroke-width="2.0"/><circle cx="119.85" cy="414.10" r="0.78" fill="#fff"/>
<path d="M128.17 413.40L129.87 413.40L129.34 410.90L128.70 410.90Z" fill="#3d3d3d"/><path d="M129.02 413.4L129.44 414.1L130.02 414.8L130.77 415.4L131.65 416L132.47 416.6L133.06 417.2L133.36 417.8L133.42 418.4L133.36 419.09L133.06 419.78L132.47 420.47L131.65 421.16L130.77 421.85L130.02 422.54L129.44 423.34L129.02 424.15L128.59 423.34L128.01 422.54L127.26 421.85L126.39 421.16L125.57 420.47L124.98 419.78L124.68 419.09L124.62 418.4L124.68 417.8L124.98 417.2L125.57 416.6L126.39 416L127.26 415.4L128.01 414.8L128.59 414.1L129.02 413.4Z" fill="#91569a" stroke="#3d3d3d" stroke-width="0.95" stroke-linejoin="round"/><line x1="129.02" y1="414.60" x2="129.02" y2="422.77" stroke="#3d3d3d" stroke-width="0.7"/><line x1="129.02" y1="416.30" x2="129.02" y2="420.81" stroke="#3d3d3d" stroke-width="2.0"/><circle cx="129.02" cy="418.40" r="0.78" fill="#fff"/>
<path d="M138.19 418.2L138.54 418.93L138.73 419.47L138.89 420L139.01 420.53L139.06 420.9L140.17 421.18L142.53 421.43L142.86 421.68L141.02 421.94L139.13 422.2L139.01 422.6L138.89 423.1L138.72 423.6L138.55 424.1L138.19 424.6L137.83 424.1L137.65 423.6L137.48 423.1L137.36 422.6L137.24 422.2L135.36 421.94L133.51 421.68L133.85 421.43L136.2 421.18L137.31 420.9L137.36 420.53L137.48 420L137.65 419.47L137.83 418.93L138.19 418.2Z" fill="#e5801c" stroke="#484848" stroke-width="0.95" stroke-linejoin="round"/><line x1="138.19" y1="420.60" x2="138.19" y2="422.60" stroke="#3d3d3d" stroke-width="1.6"/><circle cx="138.19" cy="421.60" r="0.7" fill="#fff"/>
<line x1="154.21" y1="352.20" x2="163.41" y2="352.20" stroke="#333" stroke-width="1.5"/><circle cx="158.81" cy="352.20" r="0.85" fill="#fff" stroke="#4a4a4a" stroke-width="0.55"/>
<path d="M167.13 334.90L168.83 334.90L168.30 331.70L167.66 331.70Z" fill="#3d3d3d"/><path d="M167.13 356.40L168.83 356.40L168.30 358.50L167.66 358.50Z" fill="#3d3d3d"/><path d="M167.98 334.9L168.43 336.3L169.06 337.7L169.86 338.9L170.79 340.1L171.67 341.3L172.3 342.5L172.62 343.7L172.68 344.9L172.62 346.28L172.3 347.66L171.67 349.04L170.79 350.42L169.86 351.8L169.06 353.18L168.43 354.79L167.98 356.4L167.53 354.79L166.91 353.18L166.11 351.8L165.17 350.42L164.3 349.04L163.66 347.66L163.35 346.28L163.28 344.9L163.35 343.7L163.66 342.5L164.3 341.3L165.17 340.1L166.11 338.9L166.91 337.7L167.53 336.3L167.98 334.9Z" fill="#4380b2" stroke="#3d3d3d" stroke-width="0.95" stroke-linejoin="round"/><line x1="167.98" y1="337.30" x2="167.98" y2="353.64" stroke="#3d3d3d" stroke-width="0.7"/><line x1="167.98" y1="340.70" x2="167.98" y2="349.73" stroke="#3d3d3d" stroke-width="2.0"/><circle cx="167.98" cy="344.90" r="0.78" fill="#fff"/>
<path d="M176.30 346.70L178.00 346.70L177.47 344.90L176.83 344.90Z" fill="#3d3d3d"/><path d="M176.30 366.20L178.00 366.20L177.47 368.50L176.83 368.50Z" fill="#3d3d3d"/><path d="M177.15 346.7L177.58 348.03L178.18 349.36L178.95 350.5L179.84 351.64L180.68 352.78L181.28 353.92L181.59 355.06L181.65 356.2L181.59 357.4L181.28 358.6L180.68 359.8L179.84 361L178.95 362.2L178.18 363.4L177.58 364.8L177.15 366.2L176.72 364.8L176.12 363.4L175.35 362.2L174.46 361L173.62 359.8L173.02 358.6L172.71 357.4L172.65 356.2L172.71 355.06L173.02 353.92L173.62 352.78L174.46 351.64L175.35 350.5L176.12 349.36L176.72 348.03L177.15 346.7Z" fill="#55a653" stroke="#3d3d3d" stroke-width="0.95" stroke-linejoin="round"/><line x1="177.15" y1="348.98" x2="177.15" y2="363.80" stroke="#3d3d3d" stroke-width="0.7"/><line x1="177.15" y1="352.21" x2="177.15" y2="360.40" stroke="#3d3d3d" stroke-width="2.0"/><circle cx="177.15" cy="356.20" r="0.78" fill="#fff"/>
<path d="M185.47 351.50L187.17 351.50L186.64 348.70L186.00 348.70Z" fill="#3d3d3d"/><path d="M186.32 351.5L186.75 352.48L187.35 353.46L188.11 354.3L189.01 355.14L189.85 355.98L190.45 356.82L190.76 357.66L190.82 358.5L190.76 359.28L190.45 360.06L189.85 360.84L189.01 361.62L188.11 362.4L187.35 363.18L186.75 364.09L186.32 365L185.89 364.09L185.29 363.18L184.52 362.4L183.63 361.62L182.79 360.84L182.18 360.06L181.88 359.28L181.82 358.5L181.88 357.66L182.18 356.82L182.79 355.98L183.63 355.14L184.52 354.3L185.29 353.46L185.89 352.48L186.32 351.5Z" fill="#91569a" stroke="#3d3d3d" stroke-width="0.95" stroke-linejoin="round"/><line x1="186.32" y1="353.18" x2="186.32" y2="363.44" stroke="#3d3d3d" stroke-width="0.7"/><line x1="186.32" y1="355.56" x2="186.32" y2="361.23" stroke="#3d3d3d" stroke-width="2.0"/><circle cx="186.32" cy="358.50" r="0.78" fill="#fff"/>
<path d="M194.64 362.90L196.34 362.90L195.81 345.40L195.17 345.40Z" fill="#3d3d3d"/><path d="M195.49 362.9L195.95 363.32L196.58 363.74L197.4 364.1L198.36 364.46L199.25 364.82L199.9 365.18L200.22 365.54L200.29 365.9L200.22 366.32L199.9 366.74L199.25 367.16L198.36 367.58L197.4 368L196.58 368.42L195.95 368.91L195.49 369.4L195.02 368.91L194.39 368.42L193.57 368L192.62 367.58L191.72 367.16L191.08 366.74L190.75 366.32L190.69 365.9L190.75 365.54L191.08 365.18L191.72 364.82L192.62 364.46L193.57 364.1L194.39 363.74L195.02 363.32L195.49 362.9Z" fill="#e5801c" stroke="#3d3d3d" stroke-width="0.95" stroke-linejoin="round"/><line x1="195.49" y1="363.62" x2="195.49" y2="368.56" stroke="#3d3d3d" stroke-width="0.7"/><line x1="195.49" y1="364.64" x2="195.49" y2="367.37" stroke="#3d3d3d" stroke-width="2.0"/><circle cx="195.49" cy="365.90" r="0.78" fill="#fff"/>
<line x1="211.51" y1="292.30" x2="220.71" y2="292.30" stroke="#333" stroke-width="1.5"/><circle cx="216.11" cy="292.30" r="0.85" fill="#fff" stroke="#4a4a4a" stroke-width="0.55"/>
<path d="M224.43 262.40L226.13 262.40L225.60 260.20L224.96 260.20Z" fill="#3d3d3d"/><path d="M224.43 296.00L226.13 296.00L225.60 300.00L224.96 300.00Z" fill="#3d3d3d"/><path d="M225.28 262.4L225.74 264.01L226.38 265.62L226.94 266.6L227.2 267L228.15 268.38L228.57 269L229.05 269.76L229.64 271L230 272.4L230.09 273.8L230.09 275L230.08 275.4L230 276.2L229.89 276.9L229.77 277.4L229.47 278.4L228.92 279.8L228.45 281L228.31 281.4L227.98 282.8L227.69 284.6L227.32 286.4L226.84 288.2L226.63 288.9L226.32 290L225.88 291.8L225.53 293.9L225.28 296L225.03 293.9L224.69 291.8L224.24 290L223.93 288.9L223.73 288.2L223.24 286.4L222.88 284.6L222.59 282.8L222.25 281.4L222.12 281L221.64 279.8L221.1 278.4L220.79 277.4L220.68 276.9L220.56 276.2L220.49 275.4L220.47 275L220.47 273.8L220.56 272.4L220.92 271L221.52 269.76L221.99 269L222.41 268.38L223.37 267L223.62 266.6L224.18 265.62L224.82 264.01L225.28 262.4Z" fill="#4380b2" stroke="#3d3d3d" stroke-width="0.95" stroke-linejoin="round"/><line x1="225.28" y1="267.56" x2="225.28" y2="285.80" stroke="#3d3d3d" stroke-width="0.7"/><line x1="225.28" y1="270.20" x2="225.28" y2="282.00" stroke="#3d3d3d" stroke-width="2.0"/><circle cx="225.28" cy="276.30" r="0.78" fill="#fff"/>
<path d="M233.60 281.90L235.30 281.90L234.77 279.90L234.13 279.90Z" fill="#3d3d3d"/><path d="M234.45 281.9L234.89 283.65L235.5 285.4L236.29 286.9L237.2 288.4L238.06 289.9L238.68 291.4L238.99 292.9L239.05 294.4L238.99 295.9L238.68 297.4L238.06 298.9L237.2 300.4L236.29 301.9L235.5 303.4L234.89 305.15L234.45 306.8L234.01 305.15L233.4 303.4L232.61 301.9L231.7 300.4L230.84 298.9L230.22 297.4L229.91 295.9L229.85 294.4L229.91 292.9L230.22 291.4L230.84 289.9L231.7 288.4L232.61 286.9L233.4 285.4L234.01 283.65L234.45 281.9Z" fill="#55a653" stroke="#3d3d3d" stroke-width="0.95" stroke-linejoin="round"/><line x1="234.45" y1="285.30" x2="234.45" y2="304.30" stroke="#3d3d3d" stroke-width="0.7"/><line x1="234.45" y1="289.00" x2="234.45" y2="302.00" stroke="#3d3d3d" stroke-width="2.0"/><circle cx="234.45" cy="294.80" r="0.78" fill="#fff"/>
<path d="M242.77 272.20L244.47 272.20L243.94 271.10L243.30 271.10Z" fill="#3d3d3d"/><path d="M242.77 300.10L244.47 300.10L243.94 300.80L243.30 300.80Z" fill="#3d3d3d"/><path d="M243.62 272.2L244.02 273.39L244.58 274.58L245.29 275.6L246.13 276.62L246.91 277.64L247.48 278.66L247.76 279.68L247.82 280.7L247.76 281.75L247.55 282.6L246.96 283.79L246.23 284.9L245.91 285.95L246.43 287L247.23 288.04L247.84 289.06L248 289.45L248.15 290.08L248.22 291.1L248.15 292.18L247.84 293.26L247.22 294.34L246.37 295.42L245.45 296.5L244.67 297.58L244.06 298.84L243.62 300.1L243.18 298.84L242.57 297.58L241.78 296.5L240.87 295.42L240.01 294.34L239.39 293.26L239.08 292.18L239.02 291.1L239.08 290.08L239.24 289.45L239.39 289.06L240 288.04L240.81 287L241.33 285.95L241.01 284.9L240.28 283.79L239.68 282.6L239.48 281.75L239.42 280.7L239.48 279.68L239.76 278.66L240.33 277.64L241.11 276.62L241.94 275.6L242.66 274.58L243.21 273.39L243.62 272.2Z" fill="#91569a" stroke="#3d3d3d" stroke-width="0.95" stroke-linejoin="round"/><line x1="243.62" y1="279.84" x2="243.62" y2="292.95" stroke="#3d3d3d" stroke-width="0.7"/><line x1="243.62" y1="280.20" x2="243.62" y2="292.50" stroke="#3d3d3d" stroke-width="2.0"/><circle cx="243.62" cy="286.30" r="0.78" fill="#fff"/>
<path d="M251.94 276.12L253.64 276.12L253.11 273.10L252.47 273.10Z" fill="#3d3d3d"/><path d="M252.79 276.12L253.17 277.24L253.46 278.2L253.8 279.16L254.12 280.12L254.35 281.08L254.46 282.04L254.49 283L254.47 283.75L254.45 284.27L254.54 284.8L254.92 285.25L255.6 285.7L256.33 286.15L256.88 286.6L257.15 287.05L257.2 287.5L257.13 287.95L256.83 288.4L256.24 288.85L255.42 289.3L254.54 289.75L253.79 290.2L253.42 290.5L252.79 291.25L252.15 290.5L251.78 290.2L251.03 289.75L250.15 289.3L249.33 288.85L248.74 288.4L248.44 287.95L248.37 287.5L248.42 287.05L248.69 286.6L249.24 286.15L249.97 285.7L250.65 285.25L251.03 284.8L251.12 284.27L251.1 283.75L251.09 283L251.11 282.04L251.22 281.08L251.45 280.12L251.77 279.16L252.11 278.2L252.4 277.24L252.79 276.12Z" fill="#e5801c" stroke="#3d3d3d" stroke-width="0.95" stroke-linejoin="round"/><line x1="252.79" y1="284.25" x2="252.79" y2="289.95" stroke="#3d3d3d" stroke-width="0.7"/><line x1="252.79" y1="280.20" x2="252.79" y2="287.90" stroke="#3d3d3d" stroke-width="2.0"/><circle cx="252.79" cy="287.10" r="0.78" fill="#fff"/>
<path d="M33.90 251.30 V439.60 H263.10" fill="none" stroke="#808080" stroke-width="1.25" stroke-linecap="square"/>
<text transform="translate(28.00 263.91) scale(1.085 1)" font-size="11.20" text-anchor="end" fill="#3a3a3a" stroke="#3a3a3a" stroke-width="0.3">12</text>
<text transform="translate(28.00 289.51) scale(1.085 1)" font-size="11.20" text-anchor="end" fill="#3a3a3a" stroke="#3a3a3a" stroke-width="0.3">11</text>
<text transform="translate(28.00 315.11) scale(1.085 1)" font-size="11.20" text-anchor="end" fill="#3a3a3a" stroke="#3a3a3a" stroke-width="0.3">10</text>
<text transform="translate(28.00 340.61) scale(1.085 1)" font-size="11.20" text-anchor="end" fill="#3a3a3a" stroke="#3a3a3a" stroke-width="0.3">9</text>
<text transform="translate(28.00 366.21) scale(1.085 1)" font-size="11.20" text-anchor="end" fill="#3a3a3a" stroke="#3a3a3a" stroke-width="0.3">8</text>
<text transform="translate(28.00 391.81) scale(1.085 1)" font-size="11.20" text-anchor="end" fill="#3a3a3a" stroke="#3a3a3a" stroke-width="0.3">7</text>
<text transform="translate(28.00 417.31) scale(1.085 1)" font-size="11.20" text-anchor="end" fill="#3a3a3a" stroke="#3a3a3a" stroke-width="0.3">6</text>
<text transform="translate(28.00 442.71) scale(1.085 1)" font-size="11.20" text-anchor="end" fill="#3a3a3a" stroke="#3a3a3a" stroke-width="0.3">5</text>
<text transform="translate(62.55 454.21) scale(1.060 1)" font-size="11.20" text-anchor="middle" fill="#3a3a3a" stroke="#3a3a3a" stroke-width="0.3">CB7-1</text>
<text transform="translate(119.85 454.21) scale(1.060 1)" font-size="11.20" text-anchor="middle" fill="#3a3a3a" stroke="#3a3a3a" stroke-width="0.3">CB7-3</text>
<text transform="translate(177.15 454.21) scale(1.060 1)" font-size="11.20" text-anchor="middle" fill="#3a3a3a" stroke="#3a3a3a" stroke-width="0.3">CB7-5</text>
<text transform="translate(234.45 454.21) scale(1.060 1)" font-size="11.20" text-anchor="middle" fill="#3a3a3a" stroke="#3a3a3a" stroke-width="0.3">CB7-7</text>
<text transform="translate(148.50 466.62) scale(1.060 1)" font-size="11.50" text-anchor="middle" fill="#3a3a3a" stroke="#3a3a3a" stroke-width="0.3">Dataset</text>
<text transform="translate(148.50 247.62) scale(1.060 1)" font-size="11.50" text-anchor="middle" fill="#3a3a3a" stroke="#3a3a3a" stroke-width="0.3">Phase = TEST</text>
<text transform="translate(9.92 347.10) rotate(-90) scale(0.920 1.1)" font-size="11.50" text-anchor="middle" fill="#3a3a3a" stroke="#3a3a3a" stroke-width="0.3">MAPE</text>
<rect x="267.60" y="314.00" width="59.00" height="63.40" rx="1.5" fill="#fff" stroke="#dcdcdc" stroke-width="0.8"/>
<rect x="271.20" y="317.80" width="18" height="6" fill="#cb3335" stroke="#000" stroke-opacity="0.35" stroke-width="0.5"/>
<text transform="translate(297.00 323.84) scale(1.060 1)" font-size="8.50" text-anchor="start" fill="#3a3a3a" stroke="#3a3a3a" stroke-width="0.3">EN</text>
<rect x="271.20" y="330.05" width="18" height="6" fill="#4380b2" stroke="#000" stroke-opacity="0.35" stroke-width="0.5"/>
<text transform="translate(297.00 336.09) scale(1.060 1)" font-size="8.50" text-anchor="start" fill="#3a3a3a" stroke="#3a3a3a" stroke-width="0.3">ELM</text>
<rect x="271.20" y="342.30" width="18" height="6" fill="#55a653" stroke="#000" stroke-opacity="0.35" stroke-width="0.5"/>
<text transform="translate(297.00 348.34) scale(1.060 1)" font-size="8.50" text-anchor="start" fill="#3a3a3a" stroke="#3a3a3a" stroke-width="0.3">SVR</text>
<rect x="271.20" y="354.55" width="18" height="6" fill="#91569a" stroke="#000" stroke-opacity="0.35" stroke-width="0.5"/>
<text transform="translate(297.00 360.59) scale(1.060 1)" font-size="8.50" text-anchor="start" fill="#3a3a3a" stroke="#3a3a3a" stroke-width="0.3">XGB</text>
<rect x="271.20" y="366.80" width="18" height="6" fill="#e5801c" stroke="#000" stroke-opacity="0.35" stroke-width="0.5"/>
<text transform="translate(297.00 372.84) scale(1.060 1)" font-size="8.50" text-anchor="start" fill="#3a3a3a" stroke="#3a3a3a" stroke-width="0.3">MARS</text>
</g>
<g>
<line x1="397.49" y1="269.80" x2="406.69" y2="269.80" stroke="#333" stroke-width="1.5"/><circle cx="402.09" cy="269.80" r="0.85" fill="#fff" stroke="#4a4a4a" stroke-width="0.55"/>
<path d="M410.30 266.55L412.00 266.55L411.47 265.80L410.83 265.80Z" fill="#3d3d3d"/><path d="M410.30 279.05L412.00 279.05L411.47 290.60L410.83 290.60Z" fill="#3d3d3d"/><path d="M411.15 266.55L411.62 267.43L412.25 268.3L413.07 269.05L414.02 269.8L414.92 270.55L415.56 271.3L415.89 272.05L415.95 272.8L415.89 273.55L415.56 274.3L414.92 275.05L414.02 275.8L413.07 276.55L412.25 277.3L411.61 278.18L411.15 279.05L410.69 278.18L410.05 277.3L409.24 276.55L408.28 275.8L407.39 275.05L406.74 274.3L406.42 273.55L406.35 272.8L406.42 272.05L406.74 271.3L407.39 270.55L408.28 269.8L409.24 269.05L410.05 268.3L410.69 267.43L411.15 266.55Z" fill="#4380b2" stroke="#3d3d3d" stroke-width="0.95" stroke-linejoin="round"/><line x1="411.15" y1="268.05" x2="411.15" y2="277.55" stroke="#3d3d3d" stroke-width="0.7"/><line x1="411.15" y1="270.18" x2="411.15" y2="275.43" stroke="#3d3d3d" stroke-width="2.0"/><circle cx="411.15" cy="272.80" r="0.78" fill="#fff"/>
<path d="M420.21 260.1L420.69 260.53L421.02 260.86L421.66 261.2L424 261.45L424.97 261.7L424 261.95L421.66 262.2L421.02 262.54L420.69 262.87L420.21 263.3L419.74 262.87L419.4 262.54L418.77 262.2L416.43 261.95L415.45 261.7L416.43 261.45L418.77 261.2L419.4 260.86L419.74 260.53L420.21 260.1Z" fill="#55a653" stroke="#484848" stroke-width="0.95" stroke-linejoin="round"/><line x1="420.21" y1="260.70" x2="420.21" y2="262.70" stroke="#3d3d3d" stroke-width="1.6"/><circle cx="420.21" cy="261.70" r="0.7" fill="#fff"/>
<path d="M429.27 260.2L429.83 260.65L430.11 260.9L430.37 261.15L430.86 261.4L433.1 261.65L434.06 261.9L433.1 262.15L430.91 262.4L430.51 262.74L430.37 263L430.11 263.37L429.83 263.73L429.59 264.1L429.27 264.3L428.95 264.1L428.71 263.73L428.44 263.37L428.17 263L428.03 262.74L427.63 262.4L425.44 262.15L424.48 261.9L425.45 261.65L427.69 261.4L428.17 261.15L428.44 260.9L428.71 260.65L429.27 260.2Z" fill="#91569a" stroke="#484848" stroke-width="0.95" stroke-linejoin="round"/><line x1="429.27" y1="260.90" x2="429.27" y2="262.90" stroke="#3d3d3d" stroke-width="1.6"/><circle cx="429.27" cy="261.90" r="0.7" fill="#fff"/>
<path d="M438.33 263.9L441.1 264.16L442.99 264.42L442.65 264.67L440.21 264.92L438.33 265.19L436.45 264.92L434.02 264.67L433.68 264.42L435.56 264.16L438.33 263.9Z" fill="#e5801c" stroke="#484848" stroke-width="0.95" stroke-linejoin="round"/><line x1="438.33" y1="263.50" x2="438.33" y2="265.50" stroke="#3d3d3d" stroke-width="1.6"/><circle cx="438.33" cy="264.50" r="0.7" fill="#fff"/>
<line x1="454.12" y1="271.50" x2="463.32" y2="271.50" stroke="#333" stroke-width="1.5"/><circle cx="458.72" cy="271.50" r="0.85" fill="#fff" stroke="#4a4a4a" stroke-width="0.55"/>
<path d="M467.78 268.9L468.23 269.4L468.85 270.1L469.65 270.7L470.59 271.3L471.46 271.9L472.1 272.5L472.41 273.1L472.48 273.7L472.41 274.42L472.1 275.14L471.46 275.86L470.59 276.58L469.65 277.3L468.85 278.02L468.23 278.86L467.78 279.7L467.33 278.86L466.7 278.02L465.9 277.3L464.97 276.58L464.09 275.86L463.46 275.14L463.14 274.42L463.08 273.7L463.14 273.1L463.46 272.5L464.09 271.9L464.97 271.3L465.9 270.7L466.7 270.1L467.33 269.4L467.78 268.9Z" fill="#4380b2" stroke="#3d3d3d" stroke-width="0.95" stroke-linejoin="round"/><line x1="467.78" y1="269.90" x2="467.78" y2="278.26" stroke="#3d3d3d" stroke-width="0.7"/><line x1="467.78" y1="271.60" x2="467.78" y2="276.22" stroke="#3d3d3d" stroke-width="2.0"/><circle cx="467.78" cy="273.70" r="0.78" fill="#fff"/>
<path d="M476.84 262.15L477.29 262.46L477.94 262.78L478.75 263.05L479.71 263.32L480.6 263.59L481.25 263.86L481.57 264.13L481.64 264.4L481.57 264.67L481.25 264.94L480.6 265.21L479.71 265.48L478.75 265.75L477.94 266.02L477.31 266.33L476.84 266.65L476.37 266.33L475.74 266.02L474.92 265.75L473.97 265.48L473.07 265.21L472.43 264.94L472.1 264.67L472.04 264.4L472.1 264.13L472.43 263.86L473.07 263.59L473.97 263.32L474.92 263.05L475.74 262.78L476.38 262.46L476.84 262.15Z" fill="#55a653" stroke="#3d3d3d" stroke-width="0.95" stroke-linejoin="round"/><line x1="476.84" y1="262.69" x2="476.84" y2="266.11" stroke="#3d3d3d" stroke-width="0.7"/><line x1="476.84" y1="263.45" x2="476.84" y2="265.34" stroke="#3d3d3d" stroke-width="2.0"/><circle cx="476.84" cy="264.40" r="0.78" fill="#fff"/>
<path d="M485.9 259.6L486.4 259.99L486.81 260.3L487.99 260.58L490.29 260.83L490.62 261.08L488.8 261.34L486.97 261.6L486.42 262L485.9 262.4L485.38 262L484.82 261.6L482.99 261.34L481.18 261.08L481.51 260.83L483.8 260.58L484.99 260.3L485.39 259.99L485.9 259.6Z" fill="#91569a" stroke="#484848" stroke-width="0.95" stroke-linejoin="round"/><line x1="485.90" y1="260.00" x2="485.90" y2="262.00" stroke="#3d3d3d" stroke-width="1.6"/><circle cx="485.90" cy="261.00" r="0.7" fill="#fff"/>
<path d="M494.11 265.00L495.81 265.00L495.28 260.50L494.64 260.50Z" fill="#3d3d3d"/><path d="M494.96 265L495.42 265.35L496.06 265.7L496.87 266L497.83 266.3L498.72 266.6L499.37 266.9L499.69 267.2L499.76 267.5L499.69 267.83L499.37 268.16L498.72 268.49L497.83 268.82L496.87 269.15L496.06 269.48L495.41 269.87L494.96 270.25L494.5 269.87L493.86 269.48L493.04 269.15L492.09 268.82L491.19 268.49L490.55 268.16L490.22 267.83L490.16 267.5L490.22 267.2L490.55 266.9L491.19 266.6L492.09 266.3L493.04 266L493.86 265.7L494.5 265.35L494.96 265Z" fill="#e5801c" stroke="#3d3d3d" stroke-width="0.95" stroke-linejoin="round"/><line x1="494.96" y1="265.60" x2="494.96" y2="269.59" stroke="#3d3d3d" stroke-width="0.7"/><line x1="494.96" y1="266.45" x2="494.96" y2="268.65" stroke="#3d3d3d" stroke-width="2.0"/><circle cx="494.96" cy="267.50" r="0.78" fill="#fff"/>
<line x1="510.74" y1="283.90" x2="519.94" y2="283.90" stroke="#333" stroke-width="1.5"/><circle cx="515.34" cy="283.90" r="0.85" fill="#fff" stroke="#4a4a4a" stroke-width="0.55"/>
<path d="M523.55 290.70L525.25 290.70L524.72 293.90L524.08 293.90Z" fill="#3d3d3d"/><path d="M524.4 281.2L524.86 281.83L525.5 282.46L526.32 283L527.27 283.54L528.17 284.08L528.81 284.62L529.14 285.16L529.2 285.7L529.14 286.3L528.81 286.9L528.17 287.5L527.27 288.1L526.32 288.7L525.5 289.3L524.86 290L524.4 290.7L523.94 290L523.3 289.3L522.49 288.7L521.53 288.1L520.64 287.5L519.99 286.9L519.67 286.3L519.6 285.7L519.67 285.16L519.99 284.62L520.64 284.08L521.53 283.54L522.49 283L523.3 282.46L523.94 281.83L524.4 281.2Z" fill="#4380b2" stroke="#3d3d3d" stroke-width="0.95" stroke-linejoin="round"/><line x1="524.40" y1="282.28" x2="524.40" y2="289.50" stroke="#3d3d3d" stroke-width="0.7"/><line x1="524.40" y1="283.81" x2="524.40" y2="287.80" stroke="#3d3d3d" stroke-width="2.0"/><circle cx="524.40" cy="285.70" r="0.78" fill="#fff"/>
<path d="M532.61 276.00L534.31 276.00L533.78 275.10L533.14 275.10Z" fill="#3d3d3d"/><path d="M533.46 276L533.92 276.42L534.56 276.84L535.38 277.2L536.33 277.56L537.23 277.92L537.87 278.28L538.2 278.64L538.26 279L538.2 279.42L537.87 279.84L537.23 280.26L536.33 280.68L535.38 281.1L534.56 281.52L533.92 282.01L533.46 282.5L533 282.01L532.36 281.52L531.55 281.1L530.59 280.68L529.7 280.26L529.05 279.84L528.73 279.42L528.66 279L528.73 278.64L529.05 278.28L529.7 277.92L530.59 277.56L531.55 277.2L532.36 276.84L533 276.42L533.46 276Z" fill="#55a653" stroke="#3d3d3d" stroke-width="0.95" stroke-linejoin="round"/><line x1="533.46" y1="276.72" x2="533.46" y2="281.66" stroke="#3d3d3d" stroke-width="0.7"/><line x1="533.46" y1="277.74" x2="533.46" y2="280.47" stroke="#3d3d3d" stroke-width="2.0"/><circle cx="533.46" cy="279.00" r="0.78" fill="#fff"/>
<path d="M542.52 271.1L543.6 271.56L545.33 272.04L546.84 272.52L547.22 273L546.84 273.48L545.33 273.96L543.6 274.44L542.97 274.72L542.52 275L542.07 274.72L541.45 274.44L539.71 273.96L538.2 273.48L537.82 273L538.2 272.52L539.71 272.04L541.45 271.56L542.52 271.1Z" fill="#91569a" stroke="#3d3d3d" stroke-width="0.95" stroke-linejoin="round"/><line x1="542.52" y1="271.60" x2="542.52" y2="274.52" stroke="#3d3d3d" stroke-width="0.7"/><line x1="542.52" y1="272.16" x2="542.52" y2="273.84" stroke="#3d3d3d" stroke-width="2.0"/><circle cx="542.52" cy="273.00" r="0.78" fill="#fff"/>
<path d="M550.73 278.75L552.43 278.75L551.90 285.10L551.26 285.10Z" fill="#3d3d3d"/><path d="M551.58 274.6L552.05 275L553.5 275.45L555.35 275.87L556.32 276.29L556.32 276.77L555.99 277.04L555.35 277.31L554.45 277.58L553.5 277.85L552.68 278.12L552.04 278.44L551.58 278.75L551.13 278.44L550.48 278.12L549.67 277.85L548.71 277.58L547.82 277.31L547.17 277.04L546.85 276.77L546.85 276.29L547.82 275.87L549.67 275.45L551.11 275L551.58 274.6Z" fill="#e5801c" stroke="#3d3d3d" stroke-width="0.95" stroke-linejoin="round"/><line x1="551.58" y1="275.17" x2="551.58" y2="278.21" stroke="#3d3d3d" stroke-width="0.7"/><line x1="551.58" y1="275.76" x2="551.58" y2="277.44" stroke="#3d3d3d" stroke-width="2.0"/><circle cx="551.58" cy="276.50" r="0.78" fill="#fff"/>
<line x1="567.37" y1="309.00" x2="576.57" y2="309.00" stroke="#333" stroke-width="1.5"/><circle cx="571.97" cy="309.00" r="0.85" fill="#fff" stroke="#4a4a4a" stroke-width="0.55"/>
<path d="M580.18 305.10L581.88 305.10L581.35 304.10L580.71 304.10Z" fill="#3d3d3d"/><path d="M580.18 323.60L581.88 323.60L581.35 330.30L580.71 330.30Z" fill="#3d3d3d"/><path d="M581.03 305.1L581.48 306.43L582.1 307.76L582.9 308.9L583.84 310.04L584.71 311.18L585.35 312.32L585.66 313.46L585.73 314.6L585.66 315.68L585.35 316.76L584.71 317.84L583.84 318.92L582.9 320L582.1 321.08L581.48 322.34L581.03 323.6L580.58 322.34L579.95 321.08L579.15 320L578.22 318.92L577.34 317.84L576.71 316.76L576.39 315.68L576.33 314.6L576.39 313.46L576.71 312.32L577.34 311.18L578.22 310.04L579.15 308.9L579.95 307.76L580.58 306.43L581.03 305.1Z" fill="#4380b2" stroke="#3d3d3d" stroke-width="0.95" stroke-linejoin="round"/><line x1="581.03" y1="307.38" x2="581.03" y2="321.44" stroke="#3d3d3d" stroke-width="0.7"/><line x1="581.03" y1="310.61" x2="581.03" y2="318.38" stroke="#3d3d3d" stroke-width="2.0"/><circle cx="581.03" cy="314.60" r="0.78" fill="#fff"/>
<path d="M589.24 297.70L590.94 297.70L590.41 297.00L589.77 297.00Z" fill="#3d3d3d"/><path d="M590.09 297.7L590.55 298.47L591.19 299.24L592 299.9L592.96 300.56L593.85 301.22L594.5 301.88L594.82 302.54L594.89 303.2L594.82 303.86L594.5 304.52L593.85 305.18L592.96 305.84L592 306.5L591.19 307.16L590.7 307.93L590.73 308.18L591 308.7L591.64 309.62L592.13 310.34L592.48 311.06L592.65 311.78L592.69 312.5L592.65 313.16L592.48 313.82L592.13 314.48L591.64 315.14L591.13 315.8L590.68 316.46L590.34 317.23L590.09 318L589.84 317.23L589.49 316.46L589.05 315.8L588.53 315.14L588.05 314.48L587.7 313.82L587.52 313.16L587.49 312.5L587.52 311.78L587.7 311.06L588.05 310.34L588.53 309.62L589.18 308.7L589.44 308.18L589.47 307.93L588.98 307.16L588.17 306.5L587.22 305.84L586.32 305.18L585.68 304.52L585.35 303.86L585.29 303.2L585.35 302.54L585.68 301.88L586.32 301.22L587.22 300.56L588.17 299.9L588.99 299.24L589.63 298.47L590.09 297.7Z" fill="#55a653" stroke="#3d3d3d" stroke-width="0.95" stroke-linejoin="round"/><line x1="590.09" y1="299.02" x2="590.09" y2="307.38" stroke="#3d3d3d" stroke-width="0.7"/><line x1="590.09" y1="301.50" x2="590.09" y2="314.00" stroke="#3d3d3d" stroke-width="2.0"/><circle cx="590.09" cy="303.20" r="0.78" fill="#fff"/>
<path d="M598.30 290.00L600.00 290.00L599.47 287.40L598.83 287.40Z" fill="#3d3d3d"/><path d="M598.30 304.50L600.00 304.50L599.47 307.20L598.83 307.20Z" fill="#3d3d3d"/><path d="M599.15 290L599.61 290.91L600.25 291.82L601.06 292.6L602.02 293.38L602.91 294.16L603.56 294.94L603.88 295.72L603.95 296.5L603.88 297.46L603.56 298.42L602.91 299.38L602.02 300.34L601.06 301.3L600.25 302.26L599.61 303.38L599.15 304.5L598.69 303.38L598.05 302.26L597.23 301.3L596.28 300.34L595.38 299.38L594.74 298.42L594.41 297.46L594.35 296.5L594.41 295.72L594.74 294.94L595.38 294.16L596.28 293.38L597.23 292.6L598.05 291.82L598.69 290.91L599.15 290Z" fill="#91569a" stroke="#3d3d3d" stroke-width="0.95" stroke-linejoin="round"/><line x1="599.15" y1="291.56" x2="599.15" y2="302.58" stroke="#3d3d3d" stroke-width="0.7"/><line x1="599.15" y1="293.77" x2="599.15" y2="299.86" stroke="#3d3d3d" stroke-width="2.0"/><circle cx="599.15" cy="296.50" r="0.78" fill="#fff"/>
<line x1="608.21" y1="329.90" x2="608.21" y2="431.40" stroke="#4c4c4c" stroke-width="0.95"/><path d="M607.36 329.90L609.06 329.90L608.61 337.90L607.81 337.90Z" fill="#3d3d3d"/><path d="M608.21 288.3L608.67 290.77L609.31 293.64L610.12 296.1L611.08 298.56L611.97 301.02L612.62 303.48L612.94 305.94L613.01 308.4L612.94 310.98L612.62 313.56L611.97 316.14L611.08 318.72L610.12 321.3L609.31 323.88L608.67 326.89L608.21 329.9L607.75 326.89L607.11 323.88L606.29 321.3L605.34 318.72L604.44 316.14L603.8 313.56L603.47 310.98L603.41 308.4L603.47 305.94L603.8 303.48L604.44 301.02L605.34 298.56L606.29 296.1L607.11 293.64L607.75 290.77L608.21 288.3Z" fill="#e5801c" stroke="#3d3d3d" stroke-width="0.95" stroke-linejoin="round"/><line x1="608.21" y1="305.00" x2="608.21" y2="312.00" stroke="#3d3d3d" stroke-width="0.7"/><line x1="608.21" y1="307.10" x2="608.21" y2="309.70" stroke="#3d3d3d" stroke-width="2.0"/><circle cx="608.21" cy="308.40" r="0.78" fill="#fff"/>
<path d="M391.90 251.30 V439.70 H618.40" fill="none" stroke="#808080" stroke-width="1.25" stroke-linecap="square"/>
<text transform="translate(385.40 282.91) scale(1.085 1)" font-size="11.20" text-anchor="end" fill="#3a3a3a" stroke="#3a3a3a" stroke-width="0.3">0.9</text>
<text transform="translate(385.40 310.01) scale(1.085 1)" font-size="11.20" text-anchor="end" fill="#3a3a3a" stroke="#3a3a3a" stroke-width="0.3">0.8</text>
<text transform="translate(385.40 337.01) scale(1.085 1)" font-size="11.20" text-anchor="end" fill="#3a3a3a" stroke="#3a3a3a" stroke-width="0.3">0.7</text>
<text transform="translate(385.40 364.11) scale(1.085 1)" font-size="11.20" text-anchor="end" fill="#3a3a3a" stroke="#3a3a3a" stroke-width="0.3">0.6</text>
<text transform="translate(385.40 391.21) scale(1.085 1)" font-size="11.20" text-anchor="end" fill="#3a3a3a" stroke="#3a3a3a" stroke-width="0.3">0.5</text>
<text transform="translate(385.40 418.31) scale(1.085 1)" font-size="11.20" text-anchor="end" fill="#3a3a3a" stroke="#3a3a3a" stroke-width="0.3">0.4</text>
<text transform="translate(420.21 454.21) scale(1.060 1)" font-size="11.20" text-anchor="middle" fill="#3a3a3a" stroke="#3a3a3a" stroke-width="0.3">CB7-1</text>
<text transform="translate(476.84 454.21) scale(1.060 1)" font-size="11.20" text-anchor="middle" fill="#3a3a3a" stroke="#3a3a3a" stroke-width="0.3">CB7-3</text>
<text transform="translate(533.46 454.21) scale(1.060 1)" font-size="11.20" text-anchor="middle" fill="#3a3a3a" stroke="#3a3a3a" stroke-width="0.3">CB7-5</text>
<text transform="translate(590.09 454.21) scale(1.060 1)" font-size="11.20" text-anchor="middle" fill="#3a3a3a" stroke="#3a3a3a" stroke-width="0.3">CB7-7</text>
<text transform="translate(505.15 466.62) scale(1.060 1)" font-size="11.50" text-anchor="middle" fill="#3a3a3a" stroke="#3a3a3a" stroke-width="0.3">Dataset</text>
<text transform="translate(505.15 247.72) scale(1.060 1)" font-size="11.50" text-anchor="middle" fill="#3a3a3a" stroke="#3a3a3a" stroke-width="0.3">Phase = TEST</text>
<text transform="translate(364.72 347.10) rotate(-90) scale(0.920 1.1)" font-size="11.50" text-anchor="middle" fill="#3a3a3a" stroke="#3a3a3a" stroke-width="0.3">NSE</text>
<rect x="622.70" y="314.00" width="59.40" height="63.40" rx="1.5" fill="#fff" stroke="#dcdcdc" stroke-width="0.8"/>
<rect x="626.30" y="317.80" width="18" height="6" fill="#cb3335" stroke="#000" stroke-opacity="0.35" stroke-width="0.5"/>
<text transform="translate(652.10 323.84) scale(1.060 1)" font-size="8.50" text-anchor="start" fill="#3a3a3a" stroke="#3a3a3a" stroke-width="0.3">EN</text>
<rect x="626.30" y="330.05" width="18" height="6" fill="#4380b2" stroke="#000" stroke-opacity="0.35" stroke-width="0.5"/>
<text transform="translate(652.10 336.09) scale(1.060 1)" font-size="8.50" text-anchor="start" fill="#3a3a3a" stroke="#3a3a3a" stroke-width="0.3">ELM</text>
<rect x="626.30" y="342.30" width="18" height="6" fill="#55a653" stroke="#000" stroke-opacity="0.35" stroke-width="0.5"/>
<text transform="translate(652.10 348.34) scale(1.060 1)" font-size="8.50" text-anchor="start" fill="#3a3a3a" stroke="#3a3a3a" stroke-width="0.3">SVR</text>
<rect x="626.30" y="354.55" width="18" height="6" fill="#91569a" stroke="#000" stroke-opacity="0.35" stroke-width="0.5"/>
<text transform="translate(652.10 360.59) scale(1.060 1)" font-size="8.50" text-anchor="start" fill="#3a3a3a" stroke="#3a3a3a" stroke-width="0.3">XGB</text>
<rect x="626.30" y="366.80" width="18" height="6" fill="#e5801c" stroke="#000" stroke-opacity="0.35" stroke-width="0.5"/>
<text transform="translate(652.10 372.84) scale(1.060 1)" font-size="8.50" text-anchor="start" fill="#3a3a3a" stroke="#3a3a3a" stroke-width="0.3">MARS</text>
</g>
<g transform="translate(44.6 0) skewY(-0.653) translate(-44.6 0)">
<line x1="49.89" y1="517.60" x2="59.09" y2="517.60" stroke="#333" stroke-width="1.5"/><circle cx="54.49" cy="517.60" r="0.85" fill="#fff" stroke="#4a4a4a" stroke-width="0.55"/>
<path d="M62.43 513.90L64.13 513.90L63.60 512.70L62.96 512.70Z" fill="#3d3d3d"/><path d="M62.43 527.40L64.13 527.40L63.60 542.00L62.96 542.00Z" fill="#3d3d3d"/><path d="M63.28 513.9L63.74 514.81L64.36 515.72L65.16 516.5L66.09 517.28L66.97 518.06L67.6 518.84L67.92 519.62L67.98 520.4L67.92 521.24L67.6 522.08L66.97 522.92L66.09 523.76L65.16 524.6L64.36 525.44L63.74 526.42L63.28 527.4L62.83 526.42L62.21 525.44L61.41 524.6L60.47 523.76L59.6 522.92L58.97 522.08L58.65 521.24L58.58 520.4L58.65 519.62L58.97 518.84L59.6 518.06L60.47 517.28L61.41 516.5L62.21 515.72L62.83 514.81L63.28 513.9Z" fill="#4380b2" stroke="#3d3d3d" stroke-width="0.95" stroke-linejoin="round"/><line x1="63.28" y1="515.46" x2="63.28" y2="525.72" stroke="#3d3d3d" stroke-width="0.7"/><line x1="63.28" y1="517.67" x2="63.28" y2="523.34" stroke="#3d3d3d" stroke-width="2.0"/><circle cx="63.28" cy="520.40" r="0.78" fill="#fff"/>
<path d="M72.08 505.4L72.56 505.82L72.97 506.2L74.05 506.47L76.45 506.73L76.78 506.98L74.96 507.24L73.12 507.5L72.79 507.77L72.35 508.2L72.08 508.4L71.8 508.2L71.36 507.77L71.03 507.5L69.19 507.24L67.37 506.98L67.7 506.73L70.1 506.47L71.18 506.2L71.59 505.82L72.08 505.4Z" fill="#55a653" stroke="#484848" stroke-width="0.95" stroke-linejoin="round"/><line x1="72.08" y1="505.90" x2="72.08" y2="507.90" stroke="#3d3d3d" stroke-width="1.6"/><circle cx="72.08" cy="506.90" r="0.7" fill="#fff"/>
<path d="M80.87 506L81.43 506.47L81.7 506.73L81.96 507L82.33 507.27L84.51 507.53L85.66 507.8L84.7 508.05L82.52 508.3L82.18 508.64L81.96 509.2L81.7 509.67L81.43 510.13L81.19 510.6L80.87 510.8L80.55 510.6L80.31 510.13L80.03 509.67L79.77 509.2L79.55 508.64L79.21 508.3L77.04 508.05L76.08 507.8L77.22 507.53L79.4 507.27L79.77 507L80.03 506.73L80.3 506.47L80.87 506Z" fill="#91569a" stroke="#484848" stroke-width="0.95" stroke-linejoin="round"/><line x1="80.87" y1="506.80" x2="80.87" y2="508.80" stroke="#3d3d3d" stroke-width="1.6"/><circle cx="80.87" cy="507.80" r="0.7" fill="#fff"/>
<path d="M89.66 510.2L91.55 510.48L93.99 510.73L94.33 510.98L92.49 511.24L90.56 511.5L90.36 511.8L90.2 512.1L90.02 512.4L89.66 512.7L89.3 512.4L89.12 512.1L88.95 511.8L88.76 511.5L86.83 511.24L84.99 510.98L85.33 510.73L87.77 510.48L89.66 510.2Z" fill="#e5801c" stroke="#484848" stroke-width="0.95" stroke-linejoin="round"/><line x1="89.66" y1="509.90" x2="89.66" y2="511.90" stroke="#3d3d3d" stroke-width="1.6"/><circle cx="89.66" cy="510.90" r="0.7" fill="#fff"/>
<line x1="104.84" y1="518.40" x2="114.04" y2="518.40" stroke="#333" stroke-width="1.5"/><circle cx="109.44" cy="518.40" r="0.85" fill="#fff" stroke="#4a4a4a" stroke-width="0.55"/>
<path d="M117.38 527.20L119.08 527.20L118.55 528.20L117.91 528.20Z" fill="#3d3d3d"/><path d="M118.23 515.7L118.69 516.4L119.31 517.1L120.11 517.7L121.04 518.3L121.92 518.9L122.55 519.5L122.87 520.1L122.93 520.7L122.87 521.48L122.55 522.26L121.92 523.04L121.04 523.82L120.11 524.6L119.31 525.38L118.69 526.29L118.23 527.2L117.78 526.29L117.16 525.38L116.36 524.6L115.42 523.82L114.55 523.04L113.92 522.26L113.6 521.48L113.53 520.7L113.6 520.1L113.92 519.5L114.55 518.9L115.42 518.3L116.36 517.7L117.16 517.1L117.78 516.4L118.23 515.7Z" fill="#4380b2" stroke="#3d3d3d" stroke-width="0.95" stroke-linejoin="round"/><line x1="118.23" y1="516.90" x2="118.23" y2="525.64" stroke="#3d3d3d" stroke-width="0.7"/><line x1="118.23" y1="518.60" x2="118.23" y2="523.43" stroke="#3d3d3d" stroke-width="2.0"/><circle cx="118.23" cy="520.70" r="0.78" fill="#fff"/>
<path d="M127.03 507L128.12 507.46L129.9 507.94L131.43 508.42L131.83 508.9L131.76 509.17L131.43 509.44L130.79 509.71L129.9 509.98L128.94 510.25L128.12 510.52L127.49 510.83L127.03 511.15L126.56 510.83L125.93 510.52L125.11 510.25L124.15 509.98L123.26 509.71L122.62 509.44L122.29 509.17L122.23 508.9L122.62 508.42L124.15 507.94L125.93 507.46L127.03 507Z" fill="#55a653" stroke="#3d3d3d" stroke-width="0.95" stroke-linejoin="round"/><line x1="127.03" y1="507.50" x2="127.03" y2="510.61" stroke="#3d3d3d" stroke-width="0.7"/><line x1="127.03" y1="508.06" x2="127.03" y2="509.84" stroke="#3d3d3d" stroke-width="2.0"/><circle cx="127.03" cy="508.90" r="0.78" fill="#fff"/>
<path d="M135.82 505.4L136.32 505.79L136.72 506.1L137.91 506.38L140.21 506.63L140.54 506.88L138.72 507.14L136.89 507.4L136.34 507.8L135.82 508.2L135.3 507.8L134.74 507.4L132.91 507.14L131.1 506.88L131.43 506.63L133.72 506.38L134.91 506.1L135.31 505.79L135.82 505.4Z" fill="#91569a" stroke="#484848" stroke-width="0.95" stroke-linejoin="round"/><line x1="135.82" y1="505.80" x2="135.82" y2="507.80" stroke="#3d3d3d" stroke-width="1.6"/><circle cx="135.82" cy="506.80" r="0.7" fill="#fff"/>
<path d="M143.76 511.40L145.46 511.40L144.93 505.10L144.29 505.10Z" fill="#3d3d3d"/><path d="M144.61 511.4L145.07 511.82L145.71 512.24L146.53 512.6L147.48 512.96L148.37 513.32L149.02 513.68L149.34 514.04L149.41 514.4L149.34 514.82L149.02 515.24L148.37 515.66L147.48 516.08L146.53 516.5L145.71 516.92L145.07 517.41L144.61 517.9L144.15 517.41L143.51 516.92L142.69 516.5L141.74 516.08L140.85 515.66L140.2 515.24L139.88 514.82L139.81 514.4L139.88 514.04L140.2 513.68L140.85 513.32L141.74 512.96L142.69 512.6L143.51 512.24L144.15 511.82L144.61 511.4Z" fill="#e5801c" stroke="#3d3d3d" stroke-width="0.95" stroke-linejoin="round"/><line x1="144.61" y1="512.12" x2="144.61" y2="517.06" stroke="#3d3d3d" stroke-width="0.7"/><line x1="144.61" y1="513.14" x2="144.61" y2="515.87" stroke="#3d3d3d" stroke-width="2.0"/><circle cx="144.61" cy="514.40" r="0.78" fill="#fff"/>
<line x1="159.79" y1="533.30" x2="168.99" y2="533.30" stroke="#333" stroke-width="1.5"/><circle cx="164.39" cy="533.30" r="0.85" fill="#fff" stroke="#4a4a4a" stroke-width="0.55"/>
<path d="M172.33 538.90L174.03 538.90L173.50 543.20L172.86 543.20Z" fill="#3d3d3d"/><path d="M173.18 529.2L173.64 530.03L174.28 530.66L175.1 531.2L176.05 531.74L176.95 532.28L177.59 532.82L177.92 533.36L177.98 533.9L177.92 534.5L177.59 535.1L176.95 535.7L176.05 536.3L175.1 536.9L174.28 537.5L173.64 538.2L173.18 538.9L172.72 538.2L172.09 537.5L171.27 536.9L170.31 536.3L169.42 535.7L168.77 535.1L168.45 534.5L168.38 533.9L168.45 533.36L168.77 532.82L169.42 532.28L170.31 531.74L171.27 531.2L172.09 530.66L172.72 530.03L173.18 529.2Z" fill="#4380b2" stroke="#3d3d3d" stroke-width="0.95" stroke-linejoin="round"/><line x1="173.18" y1="530.48" x2="173.18" y2="537.70" stroke="#3d3d3d" stroke-width="0.7"/><line x1="173.18" y1="532.01" x2="173.18" y2="536.00" stroke="#3d3d3d" stroke-width="2.0"/><circle cx="173.18" cy="533.90" r="0.78" fill="#fff"/>
<path d="M181.12 521.50L182.82 521.50L182.29 520.90L181.66 520.90Z" fill="#3d3d3d"/><path d="M181.12 526.50L182.82 526.50L182.29 529.30L181.66 529.30Z" fill="#3d3d3d"/><path d="M181.97 521.5L182.44 521.85L183.07 522.2L183.89 522.5L184.85 522.8L185.74 523.1L186.38 523.4L186.71 523.7L186.78 524L186.71 524.3L186.38 524.6L185.74 524.9L184.85 525.2L183.89 525.5L183.07 525.8L182.44 526.15L181.97 526.5L181.51 526.15L180.88 525.8L180.06 525.5L179.1 525.2L178.21 524.9L177.57 524.6L177.24 524.3L177.17 524L177.24 523.7L177.57 523.4L178.21 523.1L179.1 522.8L180.06 522.5L180.88 522.2L181.51 521.85L181.97 521.5Z" fill="#55a653" stroke="#3d3d3d" stroke-width="0.95" stroke-linejoin="round"/><line x1="181.97" y1="522.10" x2="181.97" y2="525.90" stroke="#3d3d3d" stroke-width="0.7"/><line x1="181.97" y1="522.95" x2="181.97" y2="525.05" stroke="#3d3d3d" stroke-width="2.0"/><circle cx="181.97" cy="524.00" r="0.78" fill="#fff"/>
<path d="M189.92 523.45L191.62 523.45L191.09 524.40L190.45 524.40Z" fill="#3d3d3d"/><path d="M190.77 518.95L191.22 519.27L191.82 519.58L192.6 519.85L193.52 520.12L194.37 520.39L194.99 520.66L195.3 520.93L195.37 521.2L195.3 521.47L194.99 521.74L194.37 522.01L193.52 522.28L192.6 522.55L191.82 522.82L191.22 523.13L190.77 523.45L190.32 523.13L189.71 522.82L188.93 522.55L188.02 522.28L187.16 522.01L186.54 521.74L186.23 521.47L186.17 521.2L186.23 520.93L186.54 520.66L187.16 520.39L188.02 520.12L188.93 519.85L189.71 519.58L190.32 519.27L190.77 518.95Z" fill="#91569a" stroke="#3d3d3d" stroke-width="0.95" stroke-linejoin="round"/><line x1="190.77" y1="519.49" x2="190.77" y2="522.91" stroke="#3d3d3d" stroke-width="0.7"/><line x1="190.77" y1="520.25" x2="190.77" y2="522.15" stroke="#3d3d3d" stroke-width="2.0"/><circle cx="190.77" cy="521.20" r="0.78" fill="#fff"/>
<path d="M198.71 526.80L200.41 526.80L199.88 532.40L199.24 532.40Z" fill="#3d3d3d"/><path d="M199.56 522.7L200.01 523.08L200.63 523.36L202.37 523.84L203.88 524.32L204.26 524.8L203.88 525.28L202.37 525.76L200.63 526.24L200.01 526.52L199.56 526.8L199.11 526.52L198.48 526.24L196.75 525.76L195.24 525.28L194.86 524.8L195.24 524.32L196.75 523.84L198.48 523.36L199.11 523.08L199.56 522.7Z" fill="#e5801c" stroke="#3d3d3d" stroke-width="0.95" stroke-linejoin="round"/><line x1="199.56" y1="523.28" x2="199.56" y2="526.32" stroke="#3d3d3d" stroke-width="0.7"/><line x1="199.56" y1="523.96" x2="199.56" y2="525.64" stroke="#3d3d3d" stroke-width="2.0"/><circle cx="199.56" cy="524.80" r="0.78" fill="#fff"/>
<line x1="214.74" y1="563.90" x2="223.94" y2="563.90" stroke="#333" stroke-width="1.5"/><circle cx="219.34" cy="563.90" r="0.85" fill="#fff" stroke="#4a4a4a" stroke-width="0.55"/>
<path d="M227.28 559.80L228.98 559.80L228.45 558.50L227.81 558.50Z" fill="#3d3d3d"/><path d="M227.28 576.55L228.98 576.55L228.45 583.90L227.81 583.90Z" fill="#3d3d3d"/><path d="M228.13 559.8L228.59 560.92L229.23 562.04L230.05 563L231 563.96L231.9 564.92L232.54 565.88L232.87 566.84L232.93 567.8L232.87 568.85L232.54 569.9L231.9 570.95L231 572L230.05 573.05L229.23 574.1L228.6 575.32L228.13 576.55L227.67 575.32L227.04 574.1L226.22 573.05L225.26 572L224.37 570.95L223.72 569.9L223.4 568.85L223.33 567.8L223.4 566.84L223.72 565.88L224.37 564.92L225.26 563.96L226.22 563L227.04 562.04L227.67 560.92L228.13 559.8Z" fill="#4380b2" stroke="#3d3d3d" stroke-width="0.95" stroke-linejoin="round"/><line x1="228.13" y1="561.72" x2="228.13" y2="574.45" stroke="#3d3d3d" stroke-width="0.7"/><line x1="228.13" y1="564.44" x2="228.13" y2="571.47" stroke="#3d3d3d" stroke-width="2.0"/><circle cx="228.13" cy="567.80" r="0.78" fill="#fff"/>
<path d="M236.92 544.5L237.39 545.2L238.02 545.9L238.84 546.5L239.8 547.1L240.69 547.7L241.33 548.3L241.66 548.9L241.73 549.5L241.66 550.1L241.55 550.38L241.33 550.7L240.69 551.3L240.11 551.7L238.84 552.5L238.41 552.8L238.02 553.1L237.58 553.57L237.49 554.34L237.88 555L238.24 555.5L238.81 556.32L239.01 556.7L239.13 556.98L239.29 557.64L239.32 558.3L239.29 558.9L239.13 559.5L238.81 560.1L238.36 560.7L237.88 561.3L237.47 561.9L236.92 562.6L236.38 561.9L235.97 561.3L235.49 560.7L235.04 560.1L234.72 559.5L234.56 558.9L234.52 558.3L234.56 557.64L234.72 556.98L234.84 556.7L235.04 556.32L235.61 555.5L235.97 555L236.36 554.34L236.27 553.57L235.83 553.1L235.44 552.8L235.01 552.5L233.74 551.7L233.16 551.3L232.52 550.7L232.3 550.38L232.19 550.1L232.12 549.5L232.19 548.9L232.52 548.3L233.16 547.7L234.05 547.1L235.01 546.5L235.83 545.9L236.46 545.2L236.92 544.5Z" fill="#55a653" stroke="#3d3d3d" stroke-width="0.95" stroke-linejoin="round"/><line x1="236.92" y1="545.70" x2="236.92" y2="553.30" stroke="#3d3d3d" stroke-width="0.7"/><line x1="236.92" y1="548.00" x2="236.92" y2="559.50" stroke="#3d3d3d" stroke-width="2.0"/><circle cx="236.92" cy="549.50" r="0.78" fill="#fff"/>
<path d="M244.87 541.40L246.57 541.40L246.04 539.90L245.40 539.90Z" fill="#3d3d3d"/><path d="M244.87 554.40L246.57 554.40L246.04 557.90L245.40 557.90Z" fill="#3d3d3d"/><path d="M245.72 541.4L246.18 542.24L246.81 543.08L247.63 543.8L248.59 544.52L249.48 545.24L250.13 545.96L250.45 546.68L250.52 547.4L250.45 548.24L250.13 549.08L249.48 549.92L248.59 550.76L247.63 551.6L246.81 552.44L246.18 553.42L245.72 554.4L245.26 553.42L244.62 552.44L243.8 551.6L242.85 550.76L241.95 549.92L241.31 549.08L240.98 548.24L240.92 547.4L240.98 546.68L241.31 545.96L241.95 545.24L242.85 544.52L243.8 543.8L244.62 543.08L245.26 542.24L245.72 541.4Z" fill="#91569a" stroke="#3d3d3d" stroke-width="0.95" stroke-linejoin="round"/><line x1="245.72" y1="542.84" x2="245.72" y2="552.72" stroke="#3d3d3d" stroke-width="0.7"/><line x1="245.72" y1="544.88" x2="245.72" y2="550.34" stroke="#3d3d3d" stroke-width="2.0"/><circle cx="245.72" cy="547.40" r="0.78" fill="#fff"/>
<line x1="254.51" y1="579.50" x2="254.51" y2="670.00" stroke="#4c4c4c" stroke-width="0.95"/><path d="M253.66 579.50L255.36 579.50L254.91 587.50L254.11 587.50Z" fill="#3d3d3d"/><path d="M254.51 541.2L254.97 543.8L255.61 546.6L256.43 549L257.38 551.4L258.27 553.8L258.92 556.2L259.24 558.6L259.31 561L259.24 563.22L258.92 565.44L258.27 567.66L257.38 569.88L256.43 572.1L255.61 574.32L254.97 576.91L254.51 579.5L254.05 576.91L253.41 574.32L252.59 572.1L251.64 569.88L250.75 567.66L250.1 565.44L249.78 563.22L249.71 561L249.78 558.6L250.1 556.2L250.75 553.8L251.64 551.4L252.59 549L253.41 546.6L254.05 543.8L254.51 541.2Z" fill="#e5801c" stroke="#3d3d3d" stroke-width="0.95" stroke-linejoin="round"/><line x1="254.51" y1="558.00" x2="254.51" y2="564.00" stroke="#3d3d3d" stroke-width="0.7"/><line x1="254.51" y1="559.70" x2="254.51" y2="562.30" stroke="#3d3d3d" stroke-width="2.0"/><circle cx="254.51" cy="561.00" r="0.78" fill="#fff"/>
<path d="M44.60 497.10 V678.10 H264.40" fill="none" stroke="#808080" stroke-width="1.25" stroke-linecap="square"/>
<text transform="translate(38.10 533.71) scale(1.085 1)" font-size="11.20" text-anchor="end" fill="#3a3a3a" stroke="#3a3a3a" stroke-width="0.3">0.95</text>
<text transform="translate(38.10 570.51) scale(1.085 1)" font-size="11.20" text-anchor="end" fill="#3a3a3a" stroke="#3a3a3a" stroke-width="0.3">0.90</text>
<text transform="translate(38.10 607.21) scale(1.085 1)" font-size="11.20" text-anchor="end" fill="#3a3a3a" stroke="#3a3a3a" stroke-width="0.3">0.85</text>
<text transform="translate(38.10 643.91) scale(1.085 1)" font-size="11.20" text-anchor="end" fill="#3a3a3a" stroke="#3a3a3a" stroke-width="0.3">0.80</text>
<text transform="translate(38.10 680.51) scale(1.085 1)" font-size="11.20" text-anchor="end" fill="#3a3a3a" stroke="#3a3a3a" stroke-width="0.3">0.75</text>
<text transform="translate(72.08 692.31) scale(1.060 1)" font-size="11.20" text-anchor="middle" fill="#3a3a3a" stroke="#3a3a3a" stroke-width="0.3">CB7-1</text>
<text transform="translate(127.03 692.31) scale(1.060 1)" font-size="11.20" text-anchor="middle" fill="#3a3a3a" stroke="#3a3a3a" stroke-width="0.3">CB7-3</text>
<text transform="translate(181.97 692.31) scale(1.060 1)" font-size="11.20" text-anchor="middle" fill="#3a3a3a" stroke="#3a3a3a" stroke-width="0.3">CB7-5</text>
<text transform="translate(236.92 692.31) scale(1.060 1)" font-size="11.20" text-anchor="middle" fill="#3a3a3a" stroke="#3a3a3a" stroke-width="0.3">CB7-7</text>
<text transform="translate(154.50 705.32) scale(1.060 1)" font-size="11.50" text-anchor="middle" fill="#3a3a3a" stroke="#3a3a3a" stroke-width="0.3">Dataset</text>
<text transform="translate(154.50 493.22) scale(1.060 1)" font-size="11.50" text-anchor="middle" fill="#3a3a3a" stroke="#3a3a3a" stroke-width="0.3">Phase = TEST</text>
<text transform="translate(10.42 589.10) rotate(-90) scale(0.920 1.1)" font-size="11.50" text-anchor="middle" fill="#3a3a3a" stroke="#3a3a3a" stroke-width="0.3">R</text>
<rect x="268.10" y="556.60" width="59.00" height="61.20" rx="1.5" fill="#fff" stroke="#dcdcdc" stroke-width="0.8"/>
<rect x="271.70" y="560.40" width="18" height="6" fill="#cb3335" stroke="#000" stroke-opacity="0.35" stroke-width="0.5"/>
<text transform="translate(297.50 566.44) scale(1.060 1)" font-size="8.50" text-anchor="start" fill="#3a3a3a" stroke="#3a3a3a" stroke-width="0.3">EN</text>
<rect x="271.70" y="572.10" width="18" height="6" fill="#4380b2" stroke="#000" stroke-opacity="0.35" stroke-width="0.5"/>
<text transform="translate(297.50 578.14) scale(1.060 1)" font-size="8.50" text-anchor="start" fill="#3a3a3a" stroke="#3a3a3a" stroke-width="0.3">ELM</text>
<rect x="271.70" y="583.80" width="18" height="6" fill="#55a653" stroke="#000" stroke-opacity="0.35" stroke-width="0.5"/>
<text transform="translate(297.50 589.84) scale(1.060 1)" font-size="8.50" text-anchor="start" fill="#3a3a3a" stroke="#3a3a3a" stroke-width="0.3">SVR</text>
<rect x="271.70" y="595.50" width="18" height="6" fill="#91569a" stroke="#000" stroke-opacity="0.35" stroke-width="0.5"/>
<text transform="translate(297.50 601.54) scale(1.060 1)" font-size="8.50" text-anchor="start" fill="#3a3a3a" stroke="#3a3a3a" stroke-width="0.3">XGB</text>
<rect x="271.70" y="607.20" width="18" height="6" fill="#e5801c" stroke="#000" stroke-opacity="0.35" stroke-width="0.5"/>
<text transform="translate(297.50 613.24) scale(1.060 1)" font-size="8.50" text-anchor="start" fill="#3a3a3a" stroke="#3a3a3a" stroke-width="0.3">MARS</text>
</g>
<g>
<line x1="398.79" y1="511.60" x2="407.99" y2="511.60" stroke="#333" stroke-width="1.5"/><circle cx="403.39" cy="511.60" r="0.85" fill="#fff" stroke="#4a4a4a" stroke-width="0.55"/>
<path d="M411.60 508.35L413.30 508.35L412.77 507.60L412.13 507.60Z" fill="#3d3d3d"/><path d="M411.60 520.85L413.30 520.85L412.77 532.40L412.13 532.40Z" fill="#3d3d3d"/><path d="M412.45 508.35L412.92 509.23L413.55 510.1L414.37 510.85L415.32 511.6L416.22 512.35L416.86 513.1L417.19 513.85L417.25 514.6L417.19 515.35L416.86 516.1L416.22 516.85L415.32 517.6L414.37 518.35L413.55 519.1L412.91 519.98L412.45 520.85L411.99 519.98L411.35 519.1L410.54 518.35L409.58 517.6L408.69 516.85L408.04 516.1L407.72 515.35L407.65 514.6L407.72 513.85L408.04 513.1L408.69 512.35L409.58 511.6L410.54 510.85L411.35 510.1L411.99 509.23L412.45 508.35Z" fill="#4380b2" stroke="#3d3d3d" stroke-width="0.95" stroke-linejoin="round"/><line x1="412.45" y1="509.85" x2="412.45" y2="519.35" stroke="#3d3d3d" stroke-width="0.7"/><line x1="412.45" y1="511.98" x2="412.45" y2="517.23" stroke="#3d3d3d" stroke-width="2.0"/><circle cx="412.45" cy="514.60" r="0.78" fill="#fff"/>
<path d="M421.51 501.9L421.99 502.33L422.32 502.66L422.96 503L425.3 503.25L426.27 503.5L425.3 503.75L422.96 504L422.32 504.34L421.99 504.67L421.51 505.1L421.04 504.67L420.7 504.34L420.07 504L417.73 503.75L416.75 503.5L417.73 503.25L420.07 503L420.7 502.66L421.04 502.33L421.51 501.9Z" fill="#55a653" stroke="#484848" stroke-width="0.95" stroke-linejoin="round"/><line x1="421.51" y1="502.50" x2="421.51" y2="504.50" stroke="#3d3d3d" stroke-width="1.6"/><circle cx="421.51" cy="503.50" r="0.7" fill="#fff"/>
<path d="M430.57 502L431.13 502.45L431.41 502.7L431.67 502.95L432.16 503.2L434.4 503.45L435.36 503.7L434.4 503.95L432.21 504.2L431.81 504.54L431.67 504.8L431.41 505.17L431.13 505.53L430.89 505.9L430.57 506.1L430.25 505.9L430.01 505.53L429.74 505.17L429.47 504.8L429.33 504.54L428.93 504.2L426.74 503.95L425.78 503.7L426.75 503.45L428.99 503.2L429.47 502.95L429.74 502.7L430.01 502.45L430.57 502Z" fill="#91569a" stroke="#484848" stroke-width="0.95" stroke-linejoin="round"/><line x1="430.57" y1="502.70" x2="430.57" y2="504.70" stroke="#3d3d3d" stroke-width="1.6"/><circle cx="430.57" cy="503.70" r="0.7" fill="#fff"/>
<path d="M439.63 505.7L442.4 505.96L444.29 506.22L443.95 506.47L441.51 506.72L439.63 506.99L437.75 506.72L435.32 506.47L434.98 506.22L436.86 505.96L439.63 505.7Z" fill="#e5801c" stroke="#484848" stroke-width="0.95" stroke-linejoin="round"/><line x1="439.63" y1="505.30" x2="439.63" y2="507.30" stroke="#3d3d3d" stroke-width="1.6"/><circle cx="439.63" cy="506.30" r="0.7" fill="#fff"/>
<line x1="455.42" y1="513.30" x2="464.62" y2="513.30" stroke="#333" stroke-width="1.5"/><circle cx="460.02" cy="513.30" r="0.85" fill="#fff" stroke="#4a4a4a" stroke-width="0.55"/>
<path d="M469.08 510.7L469.53 511.2L470.15 511.9L470.95 512.5L471.89 513.1L472.76 513.7L473.4 514.3L473.71 514.9L473.78 515.5L473.71 516.22L473.4 516.94L472.76 517.66L471.89 518.38L470.95 519.1L470.15 519.82L469.53 520.66L469.08 521.5L468.63 520.66L468 519.82L467.2 519.1L466.27 518.38L465.39 517.66L464.76 516.94L464.44 516.22L464.38 515.5L464.44 514.9L464.76 514.3L465.39 513.7L466.27 513.1L467.2 512.5L468 511.9L468.63 511.2L469.08 510.7Z" fill="#4380b2" stroke="#3d3d3d" stroke-width="0.95" stroke-linejoin="round"/><line x1="469.08" y1="511.70" x2="469.08" y2="520.06" stroke="#3d3d3d" stroke-width="0.7"/><line x1="469.08" y1="513.40" x2="469.08" y2="518.02" stroke="#3d3d3d" stroke-width="2.0"/><circle cx="469.08" cy="515.50" r="0.78" fill="#fff"/>
<path d="M478.14 503.95L478.59 504.26L479.24 504.58L480.05 504.85L481.01 505.12L481.9 505.39L482.55 505.66L482.87 505.93L482.94 506.2L482.87 506.47L482.55 506.74L481.9 507.01L481.01 507.28L480.05 507.55L479.24 507.82L478.61 508.13L478.14 508.45L477.67 508.13L477.04 507.82L476.22 507.55L475.27 507.28L474.37 507.01L473.73 506.74L473.4 506.47L473.34 506.2L473.4 505.93L473.73 505.66L474.37 505.39L475.27 505.12L476.22 504.85L477.04 504.58L477.68 504.26L478.14 503.95Z" fill="#55a653" stroke="#3d3d3d" stroke-width="0.95" stroke-linejoin="round"/><line x1="478.14" y1="504.49" x2="478.14" y2="507.91" stroke="#3d3d3d" stroke-width="0.7"/><line x1="478.14" y1="505.25" x2="478.14" y2="507.14" stroke="#3d3d3d" stroke-width="2.0"/><circle cx="478.14" cy="506.20" r="0.78" fill="#fff"/>
<path d="M487.2 501.4L487.7 501.79L488.11 502.1L489.29 502.38L491.59 502.63L491.92 502.88L490.1 503.14L488.27 503.4L487.72 503.8L487.2 504.2L486.68 503.8L486.12 503.4L484.29 503.14L482.48 502.88L482.81 502.63L485.1 502.38L486.29 502.1L486.69 501.79L487.2 501.4Z" fill="#91569a" stroke="#484848" stroke-width="0.95" stroke-linejoin="round"/><line x1="487.20" y1="501.80" x2="487.20" y2="503.80" stroke="#3d3d3d" stroke-width="1.6"/><circle cx="487.20" cy="502.80" r="0.7" fill="#fff"/>
<path d="M495.41 506.80L497.11 506.80L496.58 502.30L495.94 502.30Z" fill="#3d3d3d"/><path d="M496.26 506.8L496.72 507.15L497.36 507.5L498.17 507.8L499.13 508.1L500.02 508.4L500.67 508.7L500.99 509L501.06 509.3L500.99 509.63L500.67 509.96L500.02 510.29L499.13 510.62L498.17 510.95L497.36 511.28L496.71 511.67L496.26 512.05L495.8 511.67L495.16 511.28L494.34 510.95L493.39 510.62L492.49 510.29L491.85 509.96L491.52 509.63L491.46 509.3L491.52 509L491.85 508.7L492.49 508.4L493.39 508.1L494.34 507.8L495.16 507.5L495.8 507.15L496.26 506.8Z" fill="#e5801c" stroke="#3d3d3d" stroke-width="0.95" stroke-linejoin="round"/><line x1="496.26" y1="507.40" x2="496.26" y2="511.39" stroke="#3d3d3d" stroke-width="0.7"/><line x1="496.26" y1="508.25" x2="496.26" y2="510.45" stroke="#3d3d3d" stroke-width="2.0"/><circle cx="496.26" cy="509.30" r="0.78" fill="#fff"/>
<line x1="512.04" y1="525.70" x2="521.24" y2="525.70" stroke="#333" stroke-width="1.5"/><circle cx="516.64" cy="525.70" r="0.85" fill="#fff" stroke="#4a4a4a" stroke-width="0.55"/>
<path d="M524.85 532.50L526.55 532.50L526.02 535.70L525.38 535.70Z" fill="#3d3d3d"/><path d="M525.7 523L526.16 523.63L526.8 524.26L527.62 524.8L528.57 525.34L529.47 525.88L530.11 526.42L530.44 526.96L530.5 527.5L530.44 528.1L530.11 528.7L529.47 529.3L528.57 529.9L527.62 530.5L526.8 531.1L526.16 531.8L525.7 532.5L525.24 531.8L524.6 531.1L523.79 530.5L522.83 529.9L521.94 529.3L521.29 528.7L520.97 528.1L520.9 527.5L520.97 526.96L521.29 526.42L521.94 525.88L522.83 525.34L523.79 524.8L524.6 524.26L525.24 523.63L525.7 523Z" fill="#4380b2" stroke="#3d3d3d" stroke-width="0.95" stroke-linejoin="round"/><line x1="525.70" y1="524.08" x2="525.70" y2="531.30" stroke="#3d3d3d" stroke-width="0.7"/><line x1="525.70" y1="525.61" x2="525.70" y2="529.60" stroke="#3d3d3d" stroke-width="2.0"/><circle cx="525.70" cy="527.50" r="0.78" fill="#fff"/>
<path d="M533.91 517.80L535.61 517.80L535.08 516.90L534.44 516.90Z" fill="#3d3d3d"/><path d="M534.76 517.8L535.22 518.22L535.86 518.64L536.68 519L537.63 519.36L538.53 519.72L539.17 520.08L539.5 520.44L539.56 520.8L539.5 521.22L539.17 521.64L538.53 522.06L537.63 522.48L536.68 522.9L535.86 523.32L535.22 523.81L534.76 524.3L534.3 523.81L533.66 523.32L532.85 522.9L531.89 522.48L531 522.06L530.35 521.64L530.03 521.22L529.96 520.8L530.03 520.44L530.35 520.08L531 519.72L531.89 519.36L532.85 519L533.66 518.64L534.3 518.22L534.76 517.8Z" fill="#55a653" stroke="#3d3d3d" stroke-width="0.95" stroke-linejoin="round"/><line x1="534.76" y1="518.52" x2="534.76" y2="523.46" stroke="#3d3d3d" stroke-width="0.7"/><line x1="534.76" y1="519.54" x2="534.76" y2="522.27" stroke="#3d3d3d" stroke-width="2.0"/><circle cx="534.76" cy="520.80" r="0.78" fill="#fff"/>
<path d="M543.82 512.9L544.9 513.36L546.63 513.84L548.14 514.32L548.52 514.8L548.14 515.28L546.63 515.76L544.9 516.24L544.27 516.52L543.82 516.8L543.37 516.52L542.75 516.24L541.01 515.76L539.5 515.28L539.12 514.8L539.5 514.32L541.01 513.84L542.75 513.36L543.82 512.9Z" fill="#91569a" stroke="#3d3d3d" stroke-width="0.95" stroke-linejoin="round"/><line x1="543.82" y1="513.40" x2="543.82" y2="516.32" stroke="#3d3d3d" stroke-width="0.7"/><line x1="543.82" y1="513.96" x2="543.82" y2="515.64" stroke="#3d3d3d" stroke-width="2.0"/><circle cx="543.82" cy="514.80" r="0.78" fill="#fff"/>
<path d="M552.03 520.55L553.73 520.55L553.20 526.90L552.56 526.90Z" fill="#3d3d3d"/><path d="M552.88 516.4L553.33 516.79L553.98 517.04L555.75 517.46L557.29 517.88L557.68 518.3L557.62 518.57L557.29 518.84L556.65 519.11L555.75 519.38L554.8 519.65L553.98 519.92L553.35 520.23L552.88 520.55L552.41 520.23L551.78 519.92L550.97 519.65L550.01 519.38L549.12 519.11L548.47 518.84L548.15 518.57L548.08 518.3L548.47 517.88L550.01 517.46L551.78 517.04L552.43 516.79L552.88 516.4Z" fill="#e5801c" stroke="#3d3d3d" stroke-width="0.95" stroke-linejoin="round"/><line x1="552.88" y1="516.97" x2="552.88" y2="520.01" stroke="#3d3d3d" stroke-width="0.7"/><line x1="552.88" y1="517.56" x2="552.88" y2="519.25" stroke="#3d3d3d" stroke-width="2.0"/><circle cx="552.88" cy="518.30" r="0.78" fill="#fff"/>
<line x1="568.67" y1="550.80" x2="577.87" y2="550.80" stroke="#333" stroke-width="1.5"/><circle cx="573.27" cy="550.80" r="0.85" fill="#fff" stroke="#4a4a4a" stroke-width="0.55"/>
<path d="M581.48 546.90L583.18 546.90L582.65 545.90L582.01 545.90Z" fill="#3d3d3d"/><path d="M581.48 565.40L583.18 565.40L582.65 572.10L582.01 572.10Z" fill="#3d3d3d"/><path d="M582.33 546.9L582.78 548.23L583.4 549.56L584.2 550.7L585.14 551.84L586.01 552.98L586.65 554.12L586.96 555.26L587.03 556.4L586.96 557.48L586.65 558.56L586.01 559.64L585.14 560.72L584.2 561.8L583.4 562.88L582.78 564.14L582.33 565.4L581.88 564.14L581.25 562.88L580.45 561.8L579.52 560.72L578.64 559.64L578.01 558.56L577.69 557.48L577.63 556.4L577.69 555.26L578.01 554.12L578.64 552.98L579.52 551.84L580.45 550.7L581.25 549.56L581.88 548.23L582.33 546.9Z" fill="#4380b2" stroke="#3d3d3d" stroke-width="0.95" stroke-linejoin="round"/><line x1="582.33" y1="549.18" x2="582.33" y2="563.24" stroke="#3d3d3d" stroke-width="0.7"/><line x1="582.33" y1="552.41" x2="582.33" y2="560.18" stroke="#3d3d3d" stroke-width="2.0"/><circle cx="582.33" cy="556.40" r="0.78" fill="#fff"/>
<path d="M590.54 539.50L592.24 539.50L591.71 538.80L591.07 538.80Z" fill="#3d3d3d"/><path d="M591.39 539.5L591.85 540.27L592.49 541.04L593.3 541.7L594.26 542.36L595.15 543.02L595.8 543.68L596.12 544.34L596.19 545L596.12 545.66L595.8 546.32L595.15 546.98L594.26 547.64L593.3 548.3L592.49 548.96L592 549.73L592.03 549.98L592.3 550.5L592.94 551.42L593.43 552.14L593.78 552.86L593.95 553.58L593.99 554.3L593.95 554.96L593.78 555.62L593.43 556.28L592.94 556.94L592.43 557.6L591.98 558.26L591.64 559.03L591.39 559.8L591.14 559.03L590.79 558.26L590.35 557.6L589.83 556.94L589.35 556.28L589 555.62L588.82 554.96L588.79 554.3L588.82 553.58L589 552.86L589.35 552.14L589.83 551.42L590.48 550.5L590.74 549.98L590.77 549.73L590.28 548.96L589.47 548.3L588.52 547.64L587.62 546.98L586.98 546.32L586.65 545.66L586.59 545L586.65 544.34L586.98 543.68L587.62 543.02L588.52 542.36L589.47 541.7L590.29 541.04L590.93 540.27L591.39 539.5Z" fill="#55a653" stroke="#3d3d3d" stroke-width="0.95" stroke-linejoin="round"/><line x1="591.39" y1="540.82" x2="591.39" y2="549.18" stroke="#3d3d3d" stroke-width="0.7"/><line x1="591.39" y1="543.30" x2="591.39" y2="555.80" stroke="#3d3d3d" stroke-width="2.0"/><circle cx="591.39" cy="545.00" r="0.78" fill="#fff"/>
<path d="M599.60 531.80L601.30 531.80L600.77 529.20L600.13 529.20Z" fill="#3d3d3d"/><path d="M599.60 546.30L601.30 546.30L600.77 549.00L600.13 549.00Z" fill="#3d3d3d"/><path d="M600.45 531.8L600.91 532.71L601.55 533.62L602.36 534.4L603.32 535.18L604.21 535.96L604.86 536.74L605.18 537.52L605.25 538.3L605.18 539.26L604.86 540.22L604.21 541.18L603.32 542.14L602.36 543.1L601.55 544.06L600.91 545.18L600.45 546.3L599.99 545.18L599.35 544.06L598.53 543.1L597.58 542.14L596.68 541.18L596.04 540.22L595.71 539.26L595.65 538.3L595.71 537.52L596.04 536.74L596.68 535.96L597.58 535.18L598.53 534.4L599.35 533.62L599.99 532.71L600.45 531.8Z" fill="#91569a" stroke="#3d3d3d" stroke-width="0.95" stroke-linejoin="round"/><line x1="600.45" y1="533.36" x2="600.45" y2="544.38" stroke="#3d3d3d" stroke-width="0.7"/><line x1="600.45" y1="535.57" x2="600.45" y2="541.66" stroke="#3d3d3d" stroke-width="2.0"/><circle cx="600.45" cy="538.30" r="0.78" fill="#fff"/>
<line x1="609.51" y1="571.70" x2="609.51" y2="673.20" stroke="#4c4c4c" stroke-width="0.95"/><path d="M608.66 571.70L610.36 571.70L609.91 579.70L609.11 579.70Z" fill="#3d3d3d"/><path d="M609.51 530.1L609.97 532.57L610.61 535.44L611.42 537.9L612.38 540.36L613.27 542.82L613.92 545.28L614.24 547.74L614.31 550.2L614.24 552.78L613.92 555.36L613.27 557.94L612.38 560.52L611.42 563.1L610.61 565.68L609.97 568.69L609.51 571.7L609.05 568.69L608.41 565.68L607.59 563.1L606.64 560.52L605.74 557.94L605.1 555.36L604.77 552.78L604.71 550.2L604.77 547.74L605.1 545.28L605.74 542.82L606.64 540.36L607.59 537.9L608.41 535.44L609.05 532.57L609.51 530.1Z" fill="#e5801c" stroke="#3d3d3d" stroke-width="0.95" stroke-linejoin="round"/><line x1="609.51" y1="546.80" x2="609.51" y2="553.80" stroke="#3d3d3d" stroke-width="0.7"/><line x1="609.51" y1="548.90" x2="609.51" y2="551.50" stroke="#3d3d3d" stroke-width="2.0"/><circle cx="609.51" cy="550.20" r="0.78" fill="#fff"/>
<path d="M393.20 493.10 V680.30 H619.70" fill="none" stroke="#808080" stroke-width="1.25" stroke-linecap="square"/>
<text transform="translate(386.70 524.61) scale(1.085 1)" font-size="11.20" text-anchor="end" fill="#3a3a3a" stroke="#3a3a3a" stroke-width="0.3">0.9</text>
<text transform="translate(386.70 551.61) scale(1.085 1)" font-size="11.20" text-anchor="end" fill="#3a3a3a" stroke="#3a3a3a" stroke-width="0.3">0.8</text>
<text transform="translate(386.70 578.61) scale(1.085 1)" font-size="11.20" text-anchor="end" fill="#3a3a3a" stroke="#3a3a3a" stroke-width="0.3">0.7</text>
<text transform="translate(386.70 605.61) scale(1.085 1)" font-size="11.20" text-anchor="end" fill="#3a3a3a" stroke="#3a3a3a" stroke-width="0.3">0.6</text>
<text transform="translate(386.70 632.61) scale(1.085 1)" font-size="11.20" text-anchor="end" fill="#3a3a3a" stroke="#3a3a3a" stroke-width="0.3">0.5</text>
<text transform="translate(386.70 659.61) scale(1.085 1)" font-size="11.20" text-anchor="end" fill="#3a3a3a" stroke="#3a3a3a" stroke-width="0.3">0.4</text>
<text transform="translate(421.51 694.71) scale(1.060 1)" font-size="11.20" text-anchor="middle" fill="#3a3a3a" stroke="#3a3a3a" stroke-width="0.3">CB7-1</text>
<text transform="translate(478.14 694.71) scale(1.060 1)" font-size="11.20" text-anchor="middle" fill="#3a3a3a" stroke="#3a3a3a" stroke-width="0.3">CB7-3</text>
<text transform="translate(534.76 694.71) scale(1.060 1)" font-size="11.20" text-anchor="middle" fill="#3a3a3a" stroke="#3a3a3a" stroke-width="0.3">CB7-5</text>
<text transform="translate(591.39 694.71) scale(1.060 1)" font-size="11.20" text-anchor="middle" fill="#3a3a3a" stroke="#3a3a3a" stroke-width="0.3">CB7-7</text>
<text transform="translate(506.45 706.82) scale(1.060 1)" font-size="11.50" text-anchor="middle" fill="#3a3a3a" stroke="#3a3a3a" stroke-width="0.3">Dataset</text>
<text transform="translate(506.45 490.12) scale(1.060 1)" font-size="11.50" text-anchor="middle" fill="#3a3a3a" stroke="#3a3a3a" stroke-width="0.3">Phase = TEST</text>
<text transform="translate(365.32 587.10) rotate(-90) scale(0.920 1.1)" font-size="11.50" text-anchor="middle" fill="#3a3a3a" stroke="#3a3a3a" stroke-width="0.3">R<tspan dy="-4" font-size="8">2</tspan></text>
<rect x="623.40" y="555.30" width="59.50" height="63.10" rx="1.5" fill="#fff" stroke="#dcdcdc" stroke-width="0.8"/>
<rect x="627.00" y="559.10" width="18" height="6" fill="#cb3335" stroke="#000" stroke-opacity="0.35" stroke-width="0.5"/>
<text transform="translate(652.80 565.14) scale(1.060 1)" font-size="8.50" text-anchor="start" fill="#3a3a3a" stroke="#3a3a3a" stroke-width="0.3">EN</text>
<rect x="627.00" y="571.27" width="18" height="6" fill="#4380b2" stroke="#000" stroke-opacity="0.35" stroke-width="0.5"/>
<text transform="translate(652.80 577.32) scale(1.060 1)" font-size="8.50" text-anchor="start" fill="#3a3a3a" stroke="#3a3a3a" stroke-width="0.3">ELM</text>
<rect x="627.00" y="583.45" width="18" height="6" fill="#55a653" stroke="#000" stroke-opacity="0.35" stroke-width="0.5"/>
<text transform="translate(652.80 589.49) scale(1.060 1)" font-size="8.50" text-anchor="start" fill="#3a3a3a" stroke="#3a3a3a" stroke-width="0.3">SVR</text>
<rect x="627.00" y="595.62" width="18" height="6" fill="#91569a" stroke="#000" stroke-opacity="0.35" stroke-width="0.5"/>
<text transform="translate(652.80 601.67) scale(1.060 1)" font-size="8.50" text-anchor="start" fill="#3a3a3a" stroke="#3a3a3a" stroke-width="0.3">XGB</text>
<rect x="627.00" y="607.80" width="18" height="6" fill="#e5801c" stroke="#000" stroke-opacity="0.35" stroke-width="0.5"/>
<text transform="translate(652.80 613.84) scale(1.060 1)" font-size="8.50" text-anchor="start" fill="#3a3a3a" stroke="#3a3a3a" stroke-width="0.3">MARS</text>
</g>
<g>
<line x1="43.91" y1="891.20" x2="53.11" y2="891.20" stroke="#333" stroke-width="1.5"/><circle cx="48.51" cy="891.20" r="0.85" fill="#fff" stroke="#4a4a4a" stroke-width="0.55"/>
<path d="M56.65 876.10L58.35 876.10L57.82 857.90L57.18 857.90Z" fill="#3d3d3d"/><path d="M56.65 896.10L58.35 896.10L57.82 897.00L57.18 897.00Z" fill="#3d3d3d"/><path d="M57.5 876.1L57.96 877.43L58.6 878.76L59.42 879.9L60.37 881.04L61.26 882.18L61.91 883.32L62.23 884.46L62.3 885.6L62.23 886.86L61.91 888.12L61.26 889.38L60.37 890.64L59.42 891.9L58.6 893.16L57.96 894.63L57.5 896.1L57.04 894.63L56.4 893.16L55.58 891.9L54.63 890.64L53.74 889.38L53.09 888.12L52.77 886.86L52.7 885.6L52.77 884.46L53.09 883.32L53.74 882.18L54.63 881.04L55.58 879.9L56.4 878.76L57.04 877.43L57.5 876.1Z" fill="#4380b2" stroke="#3d3d3d" stroke-width="0.95" stroke-linejoin="round"/><line x1="57.50" y1="878.38" x2="57.50" y2="893.58" stroke="#3d3d3d" stroke-width="0.7"/><line x1="57.50" y1="881.61" x2="57.50" y2="890.01" stroke="#3d3d3d" stroke-width="2.0"/><circle cx="57.50" cy="885.60" r="0.78" fill="#fff"/>
<path d="M65.64 903.54L67.34 903.54L66.81 902.60L66.17 902.60Z" fill="#3d3d3d"/><path d="M66.49 903.54L66.85 904.2L66.96 904.62L67.09 905.1L67.19 905.5L67.32 905.78L67.75 906.06L69.36 906.54L70.4 906.84L71.15 907.26L71.15 907.74L70.21 908.22L68.87 908.58L67.64 908.94L67.05 909.22L66.78 909.5L66.49 909.9L66.2 909.5L65.92 909.22L65.34 908.94L64.1 908.58L62.77 908.22L61.82 907.74L61.82 907.26L62.58 906.84L63.62 906.54L65.23 906.06L65.65 905.78L65.78 905.5L65.88 905.1L66.02 904.62L66.13 904.2L66.49 903.54Z" fill="#55a653" stroke="#3d3d3d" stroke-width="0.95" stroke-linejoin="round"/><line x1="66.49" y1="905.98" x2="66.49" y2="909.02" stroke="#3d3d3d" stroke-width="0.7"/><line x1="66.49" y1="906.66" x2="66.49" y2="908.34" stroke="#3d3d3d" stroke-width="2.0"/><circle cx="66.49" cy="907.50" r="0.78" fill="#fff"/>
<path d="M74.63 902.98L76.33 902.98L75.80 902.00L75.16 902.00Z" fill="#3d3d3d"/><path d="M75.48 902.98L75.83 903.7L75.92 904.06L76.01 904.42L76.17 905.05L76.31 905.37L76.73 905.68L77.45 905.95L78.34 906.22L79.2 906.49L79.83 906.76L80.14 907.03L80.21 907.3L80.14 907.57L79.83 907.84L79.2 908.11L78.33 908.38L77.41 908.65L76.63 908.92L76.06 909.23L75.79 909.55L75.48 909.82L75.16 909.55L74.89 909.23L74.32 908.92L73.54 908.65L72.62 908.38L71.76 908.11L71.13 907.84L70.81 907.57L70.75 907.3L70.81 907.03L71.12 906.76L71.75 906.49L72.61 906.22L73.5 905.95L74.22 905.68L74.64 905.37L74.78 905.05L74.94 904.42L75.03 904.06L75.12 903.7L75.48 902.98Z" fill="#91569a" stroke="#3d3d3d" stroke-width="0.95" stroke-linejoin="round"/><line x1="75.48" y1="905.59" x2="75.48" y2="909.01" stroke="#3d3d3d" stroke-width="0.7"/><line x1="75.48" y1="906.35" x2="75.48" y2="908.25" stroke="#3d3d3d" stroke-width="2.0"/><circle cx="75.48" cy="907.30" r="0.78" fill="#fff"/>
<path d="M84.46 900L84.86 900.36L85.74 900.7L88.22 900.95L89.2 901.2L88.21 901.45L85.68 901.7L84.69 902L84.46 902.2L84.23 902L83.25 901.7L80.71 901.45L79.72 901.2L80.71 900.95L83.19 900.7L84.07 900.36L84.46 900Z" fill="#e5801c" stroke="#484848" stroke-width="0.95" stroke-linejoin="round"/><line x1="84.46" y1="900.20" x2="84.46" y2="902.20" stroke="#3d3d3d" stroke-width="1.6"/><circle cx="84.46" cy="901.20" r="0.7" fill="#fff"/>
<line x1="100.09" y1="887.70" x2="109.29" y2="887.70" stroke="#333" stroke-width="1.5"/><circle cx="104.69" cy="887.70" r="0.85" fill="#fff" stroke="#4a4a4a" stroke-width="0.55"/>
<path d="M112.82 876.30L114.52 876.30L113.99 874.50L113.35 874.50Z" fill="#3d3d3d"/><path d="M113.67 876.3L114.14 877.35L114.77 878.4L115.59 879.3L116.55 880.2L117.44 881.1L118.08 882L118.41 882.9L118.47 883.8L118.41 884.76L118.08 885.72L117.44 886.68L116.55 887.64L115.59 888.6L114.77 889.56L114.14 890.68L113.67 891.8L113.21 890.68L112.58 889.56L111.76 888.6L110.8 887.64L109.91 886.68L109.26 885.72L108.94 884.76L108.87 883.8L108.94 882.9L109.26 882L109.91 881.1L110.8 880.2L111.76 879.3L112.58 878.4L113.21 877.35L113.67 876.3Z" fill="#4380b2" stroke="#3d3d3d" stroke-width="0.95" stroke-linejoin="round"/><line x1="113.67" y1="878.10" x2="113.67" y2="889.88" stroke="#3d3d3d" stroke-width="0.7"/><line x1="113.67" y1="880.65" x2="113.67" y2="887.16" stroke="#3d3d3d" stroke-width="2.0"/><circle cx="113.67" cy="883.80" r="0.78" fill="#fff"/>
<path d="M121.81 898.50L123.51 898.50L122.98 897.30L122.34 897.30Z" fill="#3d3d3d"/><path d="M121.81 906.00L123.51 906.00L122.98 907.50L122.34 907.50Z" fill="#3d3d3d"/><path d="M122.66 898.5L123.12 898.99L123.76 899.48L124.58 899.9L125.53 900.32L126.43 900.74L127.07 901.16L127.4 901.58L127.46 902L127.4 902.48L127.07 902.96L126.43 903.44L125.53 903.92L124.58 904.4L123.76 904.88L123.12 905.44L122.66 906L122.2 905.44L121.56 904.88L120.75 904.4L119.79 903.92L118.9 903.44L118.25 902.96L117.93 902.48L117.86 902L117.93 901.58L118.25 901.16L118.9 900.74L119.79 900.32L120.75 899.9L121.56 899.48L122.2 898.99L122.66 898.5Z" fill="#55a653" stroke="#3d3d3d" stroke-width="0.95" stroke-linejoin="round"/><line x1="122.66" y1="899.34" x2="122.66" y2="905.04" stroke="#3d3d3d" stroke-width="0.7"/><line x1="122.66" y1="900.53" x2="122.66" y2="903.68" stroke="#3d3d3d" stroke-width="2.0"/><circle cx="122.66" cy="902.00" r="0.78" fill="#fff"/>
<path d="M130.80 906.95L132.50 906.95L131.97 906.10L131.33 906.10Z" fill="#3d3d3d"/><path d="M131.65 906.95L132.12 907.27L132.75 907.58L133.57 907.85L134.52 908.12L135.41 908.39L136.06 908.66L136.38 908.93L136.45 909.2L136.38 909.47L136.06 909.74L135.41 910.01L134.52 910.28L133.57 910.55L132.75 910.82L132.12 911.13L131.65 911.45L131.18 911.13L130.55 910.82L129.73 910.55L128.78 910.28L127.89 910.01L127.24 909.74L126.92 909.47L126.85 909.2L126.92 908.93L127.24 908.66L127.89 908.39L128.78 908.12L129.73 907.85L130.55 907.58L131.18 907.27L131.65 906.95Z" fill="#91569a" stroke="#3d3d3d" stroke-width="0.95" stroke-linejoin="round"/><line x1="131.65" y1="907.49" x2="131.65" y2="910.91" stroke="#3d3d3d" stroke-width="0.7"/><line x1="131.65" y1="908.25" x2="131.65" y2="910.15" stroke="#3d3d3d" stroke-width="2.0"/><circle cx="131.65" cy="909.20" r="0.78" fill="#fff"/>
<path d="M139.79 891.20L141.49 891.20L140.96 889.90L140.32 889.90Z" fill="#3d3d3d"/><path d="M139.79 899.20L141.49 899.20L140.96 910.10L140.32 910.10Z" fill="#3d3d3d"/><path d="M140.64 891.2L141.1 891.76L141.74 892.32L142.55 892.8L143.51 893.28L144.4 893.76L145.05 894.24L145.37 894.72L145.44 895.2L145.37 895.68L145.05 896.16L144.4 896.64L143.51 897.12L142.55 897.6L141.74 898.08L141.1 898.64L140.64 899.2L140.18 898.64L139.54 898.08L138.72 897.6L137.77 897.12L136.88 896.64L136.23 896.16L135.91 895.68L135.84 895.2L135.91 894.72L136.23 894.24L136.88 893.76L137.77 893.28L138.72 892.8L139.54 892.32L140.18 891.76L140.64 891.2Z" fill="#e5801c" stroke="#3d3d3d" stroke-width="0.95" stroke-linejoin="round"/><line x1="140.64" y1="892.16" x2="140.64" y2="898.24" stroke="#3d3d3d" stroke-width="0.7"/><line x1="140.64" y1="893.52" x2="140.64" y2="896.88" stroke="#3d3d3d" stroke-width="2.0"/><circle cx="140.64" cy="895.20" r="0.78" fill="#fff"/>
<line x1="156.26" y1="868.30" x2="165.46" y2="868.30" stroke="#333" stroke-width="1.5"/><circle cx="160.86" cy="868.30" r="0.85" fill="#fff" stroke="#4a4a4a" stroke-width="0.55"/>
<path d="M169.00 860.60L170.70 860.60L170.17 855.70L169.53 855.70Z" fill="#3d3d3d"/><path d="M169.85 860.6L170.31 861.44L170.95 862.28L171.77 863L172.72 863.72L173.61 864.44L174.26 865.16L174.58 865.88L174.65 866.6L174.58 867.26L174.26 867.92L173.61 868.58L172.72 869.24L171.77 869.9L170.95 870.56L170.31 871.33L169.85 872.1L169.39 871.33L168.75 870.56L167.93 869.9L166.98 869.24L166.09 868.58L165.44 867.92L165.12 867.26L165.05 866.6L165.12 865.88L165.44 865.16L166.09 864.44L166.98 863.72L167.93 863L168.75 862.28L169.39 861.44L169.85 860.6Z" fill="#4380b2" stroke="#3d3d3d" stroke-width="0.95" stroke-linejoin="round"/><line x1="169.85" y1="862.04" x2="169.85" y2="870.78" stroke="#3d3d3d" stroke-width="0.7"/><line x1="169.85" y1="864.08" x2="169.85" y2="868.91" stroke="#3d3d3d" stroke-width="2.0"/><circle cx="169.85" cy="866.60" r="0.78" fill="#fff"/>
<path d="M177.99 872.20L179.69 872.20L179.16 870.10L178.52 870.10Z" fill="#3d3d3d"/><path d="M177.99 879.70L179.69 879.70L179.16 881.50L178.52 881.50Z" fill="#3d3d3d"/><path d="M178.84 872.2L179.3 872.69L179.94 873.18L180.75 873.6L181.71 874.02L182.6 874.44L183.25 874.86L183.57 875.28L183.64 875.7L183.57 876.18L183.25 876.66L182.6 877.14L181.71 877.62L180.75 878.1L179.94 878.58L179.3 879.14L178.84 879.7L178.38 879.14L177.74 878.58L176.92 878.1L175.97 877.62L175.07 877.14L174.43 876.66L174.1 876.18L174.04 875.7L174.1 875.28L174.43 874.86L175.07 874.44L175.97 874.02L176.92 873.6L177.74 873.18L178.38 872.69L178.84 872.2Z" fill="#55a653" stroke="#3d3d3d" stroke-width="0.95" stroke-linejoin="round"/><line x1="178.84" y1="873.04" x2="178.84" y2="878.74" stroke="#3d3d3d" stroke-width="0.7"/><line x1="178.84" y1="874.23" x2="178.84" y2="877.38" stroke="#3d3d3d" stroke-width="2.0"/><circle cx="178.84" cy="875.70" r="0.78" fill="#fff"/>
<path d="M186.98 882.10L188.68 882.10L188.15 881.50L187.51 881.50Z" fill="#3d3d3d"/><path d="M187.83 882.1L188.29 882.45L188.92 882.8L189.74 883.1L190.7 883.4L191.59 883.7L192.24 884L192.56 884.3L192.63 884.6L192.56 884.9L192.24 885.2L191.59 885.5L190.7 885.8L189.74 886.1L188.92 886.4L188.29 886.75L187.83 887.1L187.36 886.75L186.73 886.4L185.91 886.1L184.95 885.8L184.06 885.5L183.42 885.2L183.09 884.9L183.03 884.6L183.09 884.3L183.42 884L184.06 883.7L184.95 883.4L185.91 883.1L186.73 882.8L187.36 882.45L187.83 882.1Z" fill="#91569a" stroke="#3d3d3d" stroke-width="0.95" stroke-linejoin="round"/><line x1="187.83" y1="882.70" x2="187.83" y2="886.50" stroke="#3d3d3d" stroke-width="0.7"/><line x1="187.83" y1="883.55" x2="187.83" y2="885.65" stroke="#3d3d3d" stroke-width="2.0"/><circle cx="187.83" cy="884.60" r="0.78" fill="#fff"/>
<path d="M195.96 877.15L197.66 877.15L197.13 866.20L196.49 866.20Z" fill="#3d3d3d"/><path d="M196.81 877.15L197.28 877.47L197.91 877.78L198.73 878.05L199.68 878.32L200.58 878.59L201.22 878.86L201.55 879.13L201.61 879.4L201.55 879.7L201.22 880L200.58 880.3L199.68 880.6L198.73 880.9L197.91 881.2L197.28 881.55L196.81 881.9L196.35 881.55L195.72 881.2L194.9 880.9L193.94 880.6L193.05 880.3L192.4 880L192.08 879.7L192.01 879.4L192.08 879.13L192.4 878.86L193.05 878.59L193.94 878.32L194.9 878.05L195.72 877.78L196.34 877.47L196.81 877.15Z" fill="#e5801c" stroke="#3d3d3d" stroke-width="0.95" stroke-linejoin="round"/><line x1="196.81" y1="877.69" x2="196.81" y2="881.30" stroke="#3d3d3d" stroke-width="0.7"/><line x1="196.81" y1="878.45" x2="196.81" y2="880.45" stroke="#3d3d3d" stroke-width="2.0"/><circle cx="196.81" cy="879.40" r="0.78" fill="#fff"/>
<line x1="212.44" y1="838.00" x2="221.64" y2="838.00" stroke="#333" stroke-width="1.5"/><circle cx="217.04" cy="838.00" r="0.85" fill="#fff" stroke="#4a4a4a" stroke-width="0.55"/>
<path d="M225.17 823.00L226.87 823.00L226.34 817.00L225.70 817.00Z" fill="#3d3d3d"/><path d="M225.17 841.00L226.87 841.00L226.34 842.90L225.70 842.90Z" fill="#3d3d3d"/><path d="M226.02 823L226.49 824.19L227.12 825.38L227.94 826.4L228.9 827.42L229.79 828.44L230.43 829.46L230.76 830.48L230.82 831.5L230.76 832.64L230.43 833.78L229.79 834.92L228.9 836.06L227.94 837.2L227.12 838.34L226.49 839.67L226.02 841L225.56 839.67L224.93 838.34L224.11 837.2L223.15 836.06L222.26 834.92L221.61 833.78L221.29 832.64L221.22 831.5L221.29 830.48L221.61 829.46L222.26 828.44L223.15 827.42L224.11 826.4L224.93 825.38L225.56 824.19L226.02 823Z" fill="#4380b2" stroke="#3d3d3d" stroke-width="0.95" stroke-linejoin="round"/><line x1="226.02" y1="825.04" x2="226.02" y2="838.72" stroke="#3d3d3d" stroke-width="0.7"/><line x1="226.02" y1="827.93" x2="226.02" y2="835.49" stroke="#3d3d3d" stroke-width="2.0"/><circle cx="226.02" cy="831.50" r="0.78" fill="#fff"/>
<path d="M234.16 829.86L235.86 829.86L235.33 828.90L234.69 828.90Z" fill="#3d3d3d"/><path d="M235.01 829.86L235.52 830.42L235.89 830.9L236.33 831.38L236.74 831.86L237.03 832.34L237.18 832.82L237.21 833.3L237.18 833.9L237.06 834.44L236.74 835.1L236.33 835.7L236.11 836L235.89 836.3L235.52 836.9L235.35 837.3L235.3 837.6L235.48 838.21L236.11 839.12L236.93 839.9L237.66 840.5L238.78 841.46L239.42 842.24L239.75 843.02L239.81 843.8L239.75 844.58L239.42 845.36L238.78 846.14L237.88 846.92L236.93 847.7L236.11 848.48L235.47 849.39L235.01 850.3L234.55 849.39L233.91 848.48L233.1 847.7L232.14 846.92L231.25 846.14L230.6 845.36L230.28 844.58L230.21 843.8L230.28 843.02L230.6 842.24L231.25 841.46L232.36 840.5L233.1 839.9L233.91 839.12L234.55 838.21L234.72 837.6L234.68 837.3L234.51 836.9L234.13 836.3L233.92 836L233.7 835.7L233.29 835.1L232.97 834.44L232.84 833.9L232.81 833.3L232.84 832.82L232.99 832.34L233.29 831.86L233.7 831.38L234.13 830.9L234.51 830.42L235.01 829.86Z" fill="#55a653" stroke="#3d3d3d" stroke-width="0.95" stroke-linejoin="round"/><line x1="235.01" y1="838.66" x2="235.01" y2="848.54" stroke="#3d3d3d" stroke-width="0.7"/><line x1="235.01" y1="832.50" x2="235.01" y2="845.00" stroke="#3d3d3d" stroke-width="2.0"/><circle cx="235.01" cy="843.60" r="0.78" fill="#fff"/>
<path d="M243.15 844.00L244.85 844.00L244.32 840.30L243.68 840.30Z" fill="#3d3d3d"/><path d="M243.15 858.50L244.85 858.50L244.32 862.70L243.68 862.70Z" fill="#3d3d3d"/><path d="M244 844L244.46 845.12L245.1 846.24L245.92 847.2L246.87 848.16L247.76 849.12L248.41 850.08L248.73 851.04L248.8 852L248.73 852.78L248.41 853.56L247.76 854.34L246.87 855.12L245.92 855.9L245.1 856.68L244.46 857.59L244 858.5L243.54 857.59L242.9 856.68L242.08 855.9L241.13 855.12L240.24 854.34L239.59 853.56L239.27 852.78L239.2 852L239.27 851.04L239.59 850.08L240.24 849.12L241.13 848.16L242.08 847.2L242.9 846.24L243.54 845.12L244 844Z" fill="#91569a" stroke="#3d3d3d" stroke-width="0.95" stroke-linejoin="round"/><line x1="244.00" y1="845.92" x2="244.00" y2="856.94" stroke="#3d3d3d" stroke-width="0.7"/><line x1="244.00" y1="848.64" x2="244.00" y2="854.73" stroke="#3d3d3d" stroke-width="2.0"/><circle cx="244.00" cy="852.00" r="0.78" fill="#fff"/>
<line x1="252.99" y1="740.30" x2="252.99" y2="821.95" stroke="#4c4c4c" stroke-width="0.95"/><path d="M252.14 821.95L253.84 821.95L253.39 813.95L252.59 813.95Z" fill="#3d3d3d"/><path d="M252.14 854.45L253.84 854.45L253.31 855.20L252.67 855.20Z" fill="#3d3d3d"/><path d="M252.99 821.95L253.45 824.23L254.09 826.5L254.9 828.45L255.86 830.4L256.75 832.35L257.4 834.3L257.72 836.25L257.79 838.2L257.72 840.15L257.4 842.1L256.75 844.05L255.86 846L254.9 847.95L254.09 849.9L253.45 852.18L252.99 854.45L252.53 852.18L251.89 849.9L251.07 847.95L250.12 846L249.23 844.05L248.58 842.1L248.26 840.15L248.19 838.2L248.26 836.25L248.58 834.3L249.23 832.35L250.12 830.4L251.07 828.45L251.89 826.5L252.53 824.23L252.99 821.95Z" fill="#e5801c" stroke="#3d3d3d" stroke-width="0.95" stroke-linejoin="round"/><line x1="252.99" y1="835.00" x2="252.99" y2="842.00" stroke="#3d3d3d" stroke-width="0.7"/><line x1="252.99" y1="836.90" x2="252.99" y2="839.50" stroke="#3d3d3d" stroke-width="2.0"/><circle cx="252.99" cy="838.20" r="0.78" fill="#fff"/>
<path d="M38.40 732.00 V919.80 H263.10" fill="none" stroke="#808080" stroke-width="1.25" stroke-linecap="square"/>
<text transform="translate(31.90 753.11) scale(1.085 1)" font-size="11.20" text-anchor="end" fill="#3a3a3a" stroke="#3a3a3a" stroke-width="0.3">0.5</text>
<text transform="translate(31.90 795.81) scale(1.085 1)" font-size="11.20" text-anchor="end" fill="#3a3a3a" stroke="#3a3a3a" stroke-width="0.3">0.4</text>
<text transform="translate(31.90 838.51) scale(1.085 1)" font-size="11.20" text-anchor="end" fill="#3a3a3a" stroke="#3a3a3a" stroke-width="0.3">0.3</text>
<text transform="translate(31.90 881.21) scale(1.085 1)" font-size="11.20" text-anchor="end" fill="#3a3a3a" stroke="#3a3a3a" stroke-width="0.3">0.2</text>
<text transform="translate(31.90 923.91) scale(1.085 1)" font-size="11.20" text-anchor="end" fill="#3a3a3a" stroke="#3a3a3a" stroke-width="0.3">0.1</text>
<text transform="translate(66.49 934.71) scale(1.060 1)" font-size="11.20" text-anchor="middle" fill="#3a3a3a" stroke="#3a3a3a" stroke-width="0.3">CB7-1</text>
<text transform="translate(122.66 934.71) scale(1.060 1)" font-size="11.20" text-anchor="middle" fill="#3a3a3a" stroke="#3a3a3a" stroke-width="0.3">CB7-3</text>
<text transform="translate(178.84 934.71) scale(1.060 1)" font-size="11.20" text-anchor="middle" fill="#3a3a3a" stroke="#3a3a3a" stroke-width="0.3">CB7-5</text>
<text transform="translate(235.01 934.71) scale(1.060 1)" font-size="11.20" text-anchor="middle" fill="#3a3a3a" stroke="#3a3a3a" stroke-width="0.3">CB7-7</text>
<text transform="translate(150.75 947.32) scale(1.060 1)" font-size="11.50" text-anchor="middle" fill="#3a3a3a" stroke="#3a3a3a" stroke-width="0.3">Dataset</text>
<text transform="translate(150.75 728.72) scale(1.060 1)" font-size="11.50" text-anchor="middle" fill="#3a3a3a" stroke="#3a3a3a" stroke-width="0.3">Phase = TEST</text>
<text transform="translate(10.42 827.30) rotate(-90) scale(0.920 1.1)" font-size="11.50" text-anchor="middle" fill="#3a3a3a" stroke="#3a3a3a" stroke-width="0.3">RMSE</text>
<rect x="266.90" y="794.20" width="59.70" height="63.20" rx="1.5" fill="#fff" stroke="#dcdcdc" stroke-width="0.8"/>
<rect x="270.50" y="798.00" width="18" height="6" fill="#cb3335" stroke="#000" stroke-opacity="0.35" stroke-width="0.5"/>
<text transform="translate(296.30 804.04) scale(1.060 1)" font-size="8.50" text-anchor="start" fill="#3a3a3a" stroke="#3a3a3a" stroke-width="0.3">EN</text>
<rect x="270.50" y="810.20" width="18" height="6" fill="#4380b2" stroke="#000" stroke-opacity="0.35" stroke-width="0.5"/>
<text transform="translate(296.30 816.24) scale(1.060 1)" font-size="8.50" text-anchor="start" fill="#3a3a3a" stroke="#3a3a3a" stroke-width="0.3">ELM</text>
<rect x="270.50" y="822.40" width="18" height="6" fill="#55a653" stroke="#000" stroke-opacity="0.35" stroke-width="0.5"/>
<text transform="translate(296.30 828.44) scale(1.060 1)" font-size="8.50" text-anchor="start" fill="#3a3a3a" stroke="#3a3a3a" stroke-width="0.3">SVR</text>
<rect x="270.50" y="834.60" width="18" height="6" fill="#91569a" stroke="#000" stroke-opacity="0.35" stroke-width="0.5"/>
<text transform="translate(296.30 840.64) scale(1.060 1)" font-size="8.50" text-anchor="start" fill="#3a3a3a" stroke="#3a3a3a" stroke-width="0.3">XGB</text>
<rect x="270.50" y="846.80" width="18" height="6" fill="#e5801c" stroke="#000" stroke-opacity="0.35" stroke-width="0.5"/>
<text transform="translate(296.30 852.84) scale(1.060 1)" font-size="8.50" text-anchor="start" fill="#3a3a3a" stroke="#3a3a3a" stroke-width="0.3">MARS</text>
</g>
<g>
<line x1="404.03" y1="753.10" x2="413.23" y2="753.10" stroke="#333" stroke-width="1.5"/><circle cx="408.63" cy="753.10" r="0.85" fill="#fff" stroke="#4a4a4a" stroke-width="0.55"/>
<path d="M416.61 749.80L418.31 749.80L417.78 748.90L417.14 748.90Z" fill="#3d3d3d"/><path d="M416.61 762.80L418.31 762.80L417.78 775.90L417.14 775.90Z" fill="#3d3d3d"/><path d="M417.46 749.8L417.92 750.71L418.56 751.62L419.38 752.4L420.33 753.18L421.22 753.96L421.87 754.74L422.19 755.52L422.26 756.3L422.19 757.08L421.87 757.86L421.22 758.64L420.33 759.42L419.38 760.2L418.56 760.98L417.92 761.89L417.46 762.8L417 761.89L416.36 760.98L415.54 760.2L414.59 759.42L413.7 758.64L413.05 757.86L412.73 757.08L412.66 756.3L412.73 755.52L413.05 754.74L413.7 753.96L414.59 753.18L415.54 752.4L416.36 751.62L417 750.71L417.46 749.8Z" fill="#4380b2" stroke="#3d3d3d" stroke-width="0.95" stroke-linejoin="round"/><line x1="417.46" y1="751.36" x2="417.46" y2="761.24" stroke="#3d3d3d" stroke-width="0.7"/><line x1="417.46" y1="753.57" x2="417.46" y2="759.03" stroke="#3d3d3d" stroke-width="2.0"/><circle cx="417.46" cy="756.30" r="0.78" fill="#fff"/>
<path d="M426.29 742.3L426.77 742.75L427.01 743L427.23 743.25L427.75 743.5L430.07 743.75L431.05 744L430.07 744.25L427.75 744.5L427.23 744.75L427.01 745L426.77 745.25L426.56 745.5L426.29 745.7L426.01 745.5L425.81 745.25L425.57 745L425.35 744.75L424.83 744.5L422.5 744.25L421.53 744L422.5 743.75L424.83 743.5L425.35 743.25L425.57 743L425.81 742.75L426.29 742.3Z" fill="#55a653" stroke="#484848" stroke-width="0.95" stroke-linejoin="round"/><line x1="426.29" y1="743.00" x2="426.29" y2="745.00" stroke="#3d3d3d" stroke-width="1.6"/><circle cx="426.29" cy="744.00" r="0.7" fill="#fff"/>
<path d="M435.12 742.8L435.67 743.25L435.95 743.5L436.21 743.75L436.7 744L438.94 744.25L439.91 744.5L438.95 744.75L436.77 745L436.44 745.34L436.21 746L435.95 746.5L435.67 747L435.44 747.5L435.12 747.7L434.8 747.5L434.56 747L434.28 746.5L434.02 746L433.79 745.34L433.46 745L431.29 744.75L430.33 744.5L431.29 744.25L433.53 744L434.02 743.75L434.28 743.5L434.56 743.25L435.12 742.8Z" fill="#91569a" stroke="#484848" stroke-width="0.95" stroke-linejoin="round"/><line x1="435.12" y1="743.50" x2="435.12" y2="745.50" stroke="#3d3d3d" stroke-width="1.6"/><circle cx="435.12" cy="744.50" r="0.7" fill="#fff"/>
<path d="M443.94 746.2L444.25 746.5L445.86 746.78L448.27 747.03L448.61 747.28L446.74 747.54L444.51 747.8L443.94 748.16L443.37 747.8L441.14 747.54L439.28 747.28L439.61 747.03L442.02 746.78L443.64 746.5L443.94 746.2Z" fill="#e5801c" stroke="#484848" stroke-width="0.95" stroke-linejoin="round"/><line x1="443.94" y1="746.20" x2="443.94" y2="748.20" stroke="#3d3d3d" stroke-width="1.6"/><circle cx="443.94" cy="747.20" r="0.7" fill="#fff"/>
<line x1="459.21" y1="754.50" x2="468.41" y2="754.50" stroke="#333" stroke-width="1.5"/><circle cx="463.81" cy="754.50" r="0.85" fill="#fff" stroke="#4a4a4a" stroke-width="0.55"/>
<path d="M472.63 752.2L473.1 752.9L473.73 753.6L474.55 754.2L475.51 754.8L476.4 755.4L477.04 756L477.37 756.6L477.43 757.2L477.37 757.92L477.04 758.64L476.4 759.36L475.51 760.08L474.55 760.8L473.73 761.52L473.1 762.36L472.63 763.2L472.17 762.36L471.54 761.52L470.72 760.8L469.76 760.08L468.87 759.36L468.22 758.64L467.9 757.92L467.83 757.2L467.9 756.6L468.22 756L468.87 755.4L469.76 754.8L470.72 754.2L471.54 753.6L472.17 752.9L472.63 752.2Z" fill="#4380b2" stroke="#3d3d3d" stroke-width="0.95" stroke-linejoin="round"/><line x1="472.63" y1="753.40" x2="472.63" y2="761.76" stroke="#3d3d3d" stroke-width="0.7"/><line x1="472.63" y1="755.10" x2="472.63" y2="759.72" stroke="#3d3d3d" stroke-width="2.0"/><circle cx="472.63" cy="757.20" r="0.78" fill="#fff"/>
<path d="M481.46 744.4L481.93 744.67L482.56 744.98L483.38 745.25L484.33 745.52L485.23 745.79L485.87 746.06L486.2 746.33L486.26 746.6L486.2 746.87L485.87 747.14L485.23 747.41L484.33 747.68L483.38 747.95L482.56 748.22L481.93 748.53L481.46 748.85L480.99 748.53L480.36 748.22L479.55 747.95L478.59 747.68L477.7 747.41L477.05 747.14L476.73 746.87L476.66 746.6L476.73 746.33L477.05 746.06L477.7 745.79L478.59 745.52L479.55 745.25L480.36 744.98L480.99 744.67L481.46 744.4Z" fill="#55a653" stroke="#3d3d3d" stroke-width="0.95" stroke-linejoin="round"/><line x1="481.46" y1="744.90" x2="481.46" y2="748.31" stroke="#3d3d3d" stroke-width="0.7"/><line x1="481.46" y1="745.65" x2="481.46" y2="747.55" stroke="#3d3d3d" stroke-width="2.0"/><circle cx="481.46" cy="746.60" r="0.78" fill="#fff"/>
<path d="M490.29 741.6L490.81 742.02L491.26 742.4L492.3 742.67L494.68 742.93L495.01 743.18L493.2 743.44L491.41 743.7L491.06 743.97L490.59 744.4L490.29 744.6L489.99 744.4L489.52 743.97L489.17 743.7L487.38 743.44L485.57 743.18L485.9 742.93L488.28 742.67L489.32 742.4L489.77 742.02L490.29 741.6Z" fill="#91569a" stroke="#484848" stroke-width="0.95" stroke-linejoin="round"/><line x1="490.29" y1="742.10" x2="490.29" y2="744.10" stroke="#3d3d3d" stroke-width="1.6"/><circle cx="490.29" cy="743.10" r="0.7" fill="#fff"/>
<path d="M498.27 747.75L499.97 747.75L499.44 742.30L498.80 742.30Z" fill="#3d3d3d"/><path d="M499.12 747.75L499.57 748.13L500.22 748.52L501.03 748.85L501.99 749.18L502.88 749.51L503.53 749.84L503.85 750.17L503.92 750.5L503.85 750.86L503.53 751.22L502.88 751.58L501.99 751.94L501.03 752.3L500.22 752.66L499.58 753.08L499.12 753.5L498.66 753.08L498.02 752.66L497.2 752.3L496.25 751.94L495.36 751.58L494.71 751.22L494.39 750.86L494.32 750.5L494.39 750.17L494.71 749.84L495.36 749.51L496.25 749.18L497.2 748.85L498.02 748.52L498.66 748.13L499.12 747.75Z" fill="#e5801c" stroke="#3d3d3d" stroke-width="0.95" stroke-linejoin="round"/><line x1="499.12" y1="748.41" x2="499.12" y2="752.78" stroke="#3d3d3d" stroke-width="0.7"/><line x1="499.12" y1="749.35" x2="499.12" y2="751.76" stroke="#3d3d3d" stroke-width="2.0"/><circle cx="499.12" cy="750.50" r="0.78" fill="#fff"/>
<line x1="514.38" y1="768.00" x2="523.58" y2="768.00" stroke="#333" stroke-width="1.5"/><circle cx="518.98" cy="768.00" r="0.85" fill="#fff" stroke="#4a4a4a" stroke-width="0.55"/>
<path d="M526.96 774.30L528.66 774.30L528.13 778.20L527.49 778.20Z" fill="#3d3d3d"/><path d="M527.81 764.8L528.27 765.43L528.91 766.06L529.73 766.6L530.68 767.14L531.57 767.68L532.22 768.22L532.54 768.76L532.61 769.3L532.54 769.9L532.22 770.5L531.57 771.1L530.68 771.7L529.73 772.3L528.91 772.9L528.27 773.6L527.81 774.3L527.35 773.6L526.71 772.9L525.89 772.3L524.94 771.7L524.05 771.1L523.4 770.5L523.08 769.9L523.01 769.3L523.08 768.76L523.4 768.22L524.05 767.68L524.94 767.14L525.89 766.6L526.71 766.06L527.35 765.43L527.81 764.8Z" fill="#4380b2" stroke="#3d3d3d" stroke-width="0.95" stroke-linejoin="round"/><line x1="527.81" y1="765.88" x2="527.81" y2="773.10" stroke="#3d3d3d" stroke-width="0.7"/><line x1="527.81" y1="767.41" x2="527.81" y2="771.40" stroke="#3d3d3d" stroke-width="2.0"/><circle cx="527.81" cy="769.30" r="0.78" fill="#fff"/>
<path d="M535.79 759.00L537.49 759.00L536.96 758.00L536.32 758.00Z" fill="#3d3d3d"/><path d="M535.79 764.50L537.49 764.50L536.96 765.80L536.32 765.80Z" fill="#3d3d3d"/><path d="M536.64 759L537.1 759.35L537.74 759.7L538.55 760L539.51 760.3L540.4 760.6L541.05 760.9L541.37 761.2L541.44 761.5L541.37 761.86L541.05 762.22L540.4 762.58L539.51 762.94L538.55 763.3L537.74 763.66L537.1 764.08L536.64 764.5L536.18 764.08L535.54 763.66L534.72 763.3L533.77 762.94L532.87 762.58L532.23 762.22L531.9 761.86L531.84 761.5L531.9 761.2L532.23 760.9L532.87 760.6L533.77 760.3L534.72 760L535.54 759.7L536.18 759.35L536.64 759Z" fill="#55a653" stroke="#3d3d3d" stroke-width="0.95" stroke-linejoin="round"/><line x1="536.64" y1="759.60" x2="536.64" y2="763.78" stroke="#3d3d3d" stroke-width="0.7"/><line x1="536.64" y1="760.45" x2="536.64" y2="762.76" stroke="#3d3d3d" stroke-width="2.0"/><circle cx="536.64" cy="761.50" r="0.78" fill="#fff"/>
<path d="M544.62 759.00L546.32 759.00L545.79 759.60L545.15 759.60Z" fill="#3d3d3d"/><path d="M545.47 754.9L545.91 755.28L546.52 755.56L548.22 756.04L549.69 756.52L550.07 757L549.69 757.48L548.22 757.96L546.52 758.44L545.91 758.72L545.47 759L545.02 758.72L544.41 758.44L542.71 757.96L541.24 757.48L540.87 757L541.24 756.52L542.71 756.04L544.41 755.56L545.02 755.28L545.47 754.9Z" fill="#91569a" stroke="#3d3d3d" stroke-width="0.95" stroke-linejoin="round"/><line x1="545.47" y1="755.48" x2="545.47" y2="758.52" stroke="#3d3d3d" stroke-width="0.7"/><line x1="545.47" y1="756.16" x2="545.47" y2="757.84" stroke="#3d3d3d" stroke-width="2.0"/><circle cx="545.47" cy="757.00" r="0.78" fill="#fff"/>
<path d="M553.44 762.50L555.14 762.50L554.61 768.90L553.97 768.90Z" fill="#3d3d3d"/><path d="M554.29 758.5L554.76 758.78L555.39 759.06L557.16 759.54L558.7 760.02L559.09 760.5L558.7 760.98L557.16 761.46L555.39 761.94L554.76 762.22L554.29 762.5L553.83 762.22L553.2 761.94L551.42 761.46L549.88 760.98L549.49 760.5L549.88 760.02L551.42 759.54L553.2 759.06L553.83 758.78L554.29 758.5Z" fill="#e5801c" stroke="#3d3d3d" stroke-width="0.95" stroke-linejoin="round"/><line x1="554.29" y1="758.98" x2="554.29" y2="762.02" stroke="#3d3d3d" stroke-width="0.7"/><line x1="554.29" y1="759.66" x2="554.29" y2="761.34" stroke="#3d3d3d" stroke-width="2.0"/><circle cx="554.29" cy="760.50" r="0.78" fill="#fff"/>
<line x1="569.56" y1="796.40" x2="578.76" y2="796.40" stroke="#333" stroke-width="1.5"/><circle cx="574.16" cy="796.40" r="0.85" fill="#fff" stroke="#4a4a4a" stroke-width="0.55"/>
<path d="M582.13 792.55L583.83 792.55L583.30 791.30L582.66 791.30Z" fill="#3d3d3d"/><path d="M582.13 809.80L583.83 809.80L583.30 817.60L582.66 817.60Z" fill="#3d3d3d"/><path d="M582.98 792.55L583.44 793.77L584.08 795L584.9 796.05L585.86 797.1L586.75 798.15L587.39 799.2L587.72 800.25L587.78 801.3L587.72 802.32L587.39 803.34L586.75 804.36L585.86 805.38L584.9 806.4L584.08 807.42L583.45 808.61L582.98 809.8L582.52 808.61L581.89 807.42L581.07 806.4L580.11 805.38L579.22 804.36L578.57 803.34L578.25 802.32L578.18 801.3L578.25 800.25L578.57 799.2L579.22 798.15L580.11 797.1L581.07 796.05L581.89 795L582.52 793.77L582.98 792.55Z" fill="#4380b2" stroke="#3d3d3d" stroke-width="0.95" stroke-linejoin="round"/><line x1="582.98" y1="794.65" x2="582.98" y2="807.76" stroke="#3d3d3d" stroke-width="0.7"/><line x1="582.98" y1="797.62" x2="582.98" y2="804.87" stroke="#3d3d3d" stroke-width="2.0"/><circle cx="582.98" cy="801.30" r="0.78" fill="#fff"/>
<path d="M591.81 781.2L592.27 782.1L592.91 782.8L593.73 783.4L594.68 784L595.58 784.6L596.22 785.2L596.55 785.8L596.61 786.4L596.55 787.06L596.22 787.72L595.58 788.38L594.68 789.04L593.73 789.7L593.09 790.2L592.4 790.97L592.4 791.74L592.81 792.4L593.26 793L593.77 793.72L594.09 794.32L594.28 795.04L594.31 795.7L594.28 796.3L594.11 796.9L593.77 797.5L593.31 798.1L592.81 798.7L592.38 799.3L592.05 800L591.81 800.4L591.57 800L591.24 799.3L590.81 798.7L590.32 798.1L589.85 797.5L589.52 796.9L589.35 796.3L589.31 795.7L589.35 795.04L589.54 794.32L589.85 793.72L590.36 793L590.81 792.4L591.23 791.74L591.22 790.97L590.54 790.2L589.9 789.7L588.94 789.04L588.05 788.38L587.4 787.72L587.08 787.06L587.01 786.4L587.08 785.8L587.4 785.2L588.05 784.6L588.94 784L589.9 783.4L590.71 782.8L591.35 782.1L591.81 781.2Z" fill="#55a653" stroke="#3d3d3d" stroke-width="0.95" stroke-linejoin="round"/><line x1="591.81" y1="782.60" x2="591.81" y2="790.58" stroke="#3d3d3d" stroke-width="0.7"/><line x1="591.81" y1="785.00" x2="591.81" y2="797.00" stroke="#3d3d3d" stroke-width="2.0"/><circle cx="591.81" cy="786.40" r="0.78" fill="#fff"/>
<path d="M599.79 775.75L601.49 775.75L600.96 773.60L600.32 773.60Z" fill="#3d3d3d"/><path d="M599.79 789.00L601.49 789.00L600.96 792.60L600.32 792.60Z" fill="#3d3d3d"/><path d="M600.64 775.75L601.09 776.62L601.72 777.5L602.52 778.25L603.45 779L604.33 779.75L604.96 780.5L605.28 781.25L605.34 782L605.28 782.84L604.96 783.68L604.33 784.52L603.45 785.36L602.52 786.2L601.72 787.04L601.09 788.02L600.64 789L600.19 788.02L599.57 787.04L598.76 786.2L597.83 785.36L596.96 784.52L596.32 783.68L596.01 782.84L595.94 782L596.01 781.25L596.32 780.5L596.96 779.75L597.83 779L598.76 778.25L599.57 777.5L600.19 776.62L600.64 775.75Z" fill="#91569a" stroke="#3d3d3d" stroke-width="0.95" stroke-linejoin="round"/><line x1="600.64" y1="777.25" x2="600.64" y2="787.32" stroke="#3d3d3d" stroke-width="0.7"/><line x1="600.64" y1="779.38" x2="600.64" y2="784.94" stroke="#3d3d3d" stroke-width="2.0"/><circle cx="600.64" cy="782.00" r="0.78" fill="#fff"/>
<line x1="609.47" y1="814.70" x2="609.47" y2="912.60" stroke="#4c4c4c" stroke-width="0.95"/><path d="M608.62 814.70L610.32 814.70L609.87 822.70L609.07 822.70Z" fill="#3d3d3d"/><path d="M609.47 774.5L609.93 777.07L610.57 779.94L611.38 782.4L612.34 784.86L613.23 787.32L613.88 789.78L614.2 792.24L614.27 794.7L614.2 797.1L613.88 799.5L613.23 801.9L612.34 804.3L611.38 806.7L610.57 809.1L609.93 811.9L609.47 814.7L609.01 811.9L608.37 809.1L607.55 806.7L606.6 804.3L605.71 801.9L605.06 799.5L604.74 797.1L604.67 794.7L604.74 792.24L605.06 789.78L605.71 787.32L606.6 784.86L607.55 782.4L608.37 779.94L609.01 777.07L609.47 774.5Z" fill="#e5801c" stroke="#3d3d3d" stroke-width="0.95" stroke-linejoin="round"/><line x1="609.47" y1="791.00" x2="609.47" y2="798.00" stroke="#3d3d3d" stroke-width="0.7"/><line x1="609.47" y1="793.40" x2="609.47" y2="796.00" stroke="#3d3d3d" stroke-width="2.0"/><circle cx="609.47" cy="794.70" r="0.78" fill="#fff"/>
<path d="M398.70 733.30 V920.30 H619.40" fill="none" stroke="#808080" stroke-width="1.25" stroke-linecap="square"/>
<text transform="translate(392.20 760.61) scale(1.085 1)" font-size="11.20" text-anchor="end" fill="#3a3a3a" stroke="#3a3a3a" stroke-width="0.3">0.98</text>
<text transform="translate(392.20 785.41) scale(1.085 1)" font-size="11.20" text-anchor="end" fill="#3a3a3a" stroke="#3a3a3a" stroke-width="0.3">0.96</text>
<text transform="translate(392.20 810.21) scale(1.085 1)" font-size="11.20" text-anchor="end" fill="#3a3a3a" stroke="#3a3a3a" stroke-width="0.3">0.94</text>
<text transform="translate(392.20 834.91) scale(1.085 1)" font-size="11.20" text-anchor="end" fill="#3a3a3a" stroke="#3a3a3a" stroke-width="0.3">0.92</text>
<text transform="translate(392.20 859.71) scale(1.085 1)" font-size="11.20" text-anchor="end" fill="#3a3a3a" stroke="#3a3a3a" stroke-width="0.3">0.90</text>
<text transform="translate(392.20 884.41) scale(1.085 1)" font-size="11.20" text-anchor="end" fill="#3a3a3a" stroke="#3a3a3a" stroke-width="0.3">0.88</text>
<text transform="translate(392.20 909.11) scale(1.085 1)" font-size="11.20" text-anchor="end" fill="#3a3a3a" stroke="#3a3a3a" stroke-width="0.3">0.86</text>
<text transform="translate(426.29 934.91) scale(1.060 1)" font-size="11.20" text-anchor="middle" fill="#3a3a3a" stroke="#3a3a3a" stroke-width="0.3">CB7-1</text>
<text transform="translate(481.46 934.91) scale(1.060 1)" font-size="11.20" text-anchor="middle" fill="#3a3a3a" stroke="#3a3a3a" stroke-width="0.3">CB7-3</text>
<text transform="translate(536.64 934.91) scale(1.060 1)" font-size="11.20" text-anchor="middle" fill="#3a3a3a" stroke="#3a3a3a" stroke-width="0.3">CB7-5</text>
<text transform="translate(591.81 934.91) scale(1.060 1)" font-size="11.20" text-anchor="middle" fill="#3a3a3a" stroke="#3a3a3a" stroke-width="0.3">CB7-7</text>
<text transform="translate(509.05 946.82) scale(1.060 1)" font-size="11.50" text-anchor="middle" fill="#3a3a3a" stroke="#3a3a3a" stroke-width="0.3">Dataset</text>
<text transform="translate(509.05 729.12) scale(1.060 1)" font-size="11.50" text-anchor="middle" fill="#3a3a3a" stroke="#3a3a3a" stroke-width="0.3">Phase = TEST</text>
<text transform="translate(363.42 827.80) rotate(-90) scale(0.920 1.1)" font-size="11.50" text-anchor="middle" fill="#3a3a3a" stroke="#3a3a3a" stroke-width="0.3">WI</text>
<rect x="622.70" y="795.50" width="59.40" height="63.20" rx="1.5" fill="#fff" stroke="#dcdcdc" stroke-width="0.8"/>
<rect x="626.30" y="799.30" width="18" height="6" fill="#cb3335" stroke="#000" stroke-opacity="0.35" stroke-width="0.5"/>
<text transform="translate(652.10 805.34) scale(1.060 1)" font-size="8.50" text-anchor="start" fill="#3a3a3a" stroke="#3a3a3a" stroke-width="0.3">EN</text>
<rect x="626.30" y="811.50" width="18" height="6" fill="#4380b2" stroke="#000" stroke-opacity="0.35" stroke-width="0.5"/>
<text transform="translate(652.10 817.54) scale(1.060 1)" font-size="8.50" text-anchor="start" fill="#3a3a3a" stroke="#3a3a3a" stroke-width="0.3">ELM</text>
<rect x="626.30" y="823.70" width="18" height="6" fill="#55a653" stroke="#000" stroke-opacity="0.35" stroke-width="0.5"/>
<text transform="translate(652.10 829.74) scale(1.060 1)" font-size="8.50" text-anchor="start" fill="#3a3a3a" stroke="#3a3a3a" stroke-width="0.3">SVR</text>
<rect x="626.30" y="835.90" width="18" height="6" fill="#91569a" stroke="#000" stroke-opacity="0.35" stroke-width="0.5"/>
<text transform="translate(652.10 841.94) scale(1.060 1)" font-size="8.50" text-anchor="start" fill="#3a3a3a" stroke="#3a3a3a" stroke-width="0.3">XGB</text>
<rect x="626.30" y="848.10" width="18" height="6" fill="#e5801c" stroke="#000" stroke-opacity="0.35" stroke-width="0.5"/>
<text transform="translate(652.10 854.14) scale(1.060 1)" font-size="8.50" text-anchor="start" fill="#3a3a3a" stroke="#3a3a3a" stroke-width="0.3">MARS</text>
</g>
<rect x="3" y="955.5" width="675" height="1.5" fill="#f8f8f8"/></svg>
</body></html>
